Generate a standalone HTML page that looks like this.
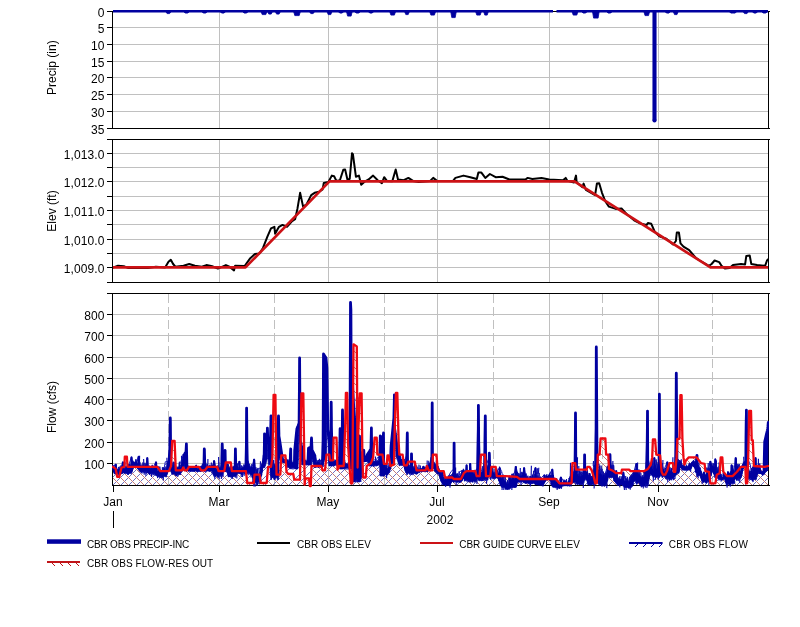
<!DOCTYPE html>
<html lang="en"><head><meta charset="utf-8"><title>CBR Reservoir Plot 2002</title>
<style>
html,body{margin:0;padding:0;background:#fff;}
body{width:800px;height:627px;overflow:hidden;}
svg{display:block;}
text{font-family:"Liberation Sans", Arial, sans-serif;fill:#000;font-kerning:none;}
.ax{font-size:12px;letter-spacing:0.1px;}
.lg{font-size:10px;}
.g{stroke:#c0c0c0;stroke-width:1;shape-rendering:crispEdges;fill:none;}
.k{stroke:#000;stroke-width:1;shape-rendering:crispEdges;fill:none;}
</style></head><body>
<svg width="800" height="627" viewBox="0 0 800 627">
<defs>
<pattern id="hb" width="8" height="8" patternUnits="userSpaceOnUse" patternTransform="translate(6,0)"><path d="M-1,9 L9,-1 M-1,1 L1,-1 M7,9 L9,7" stroke="#7070c0" stroke-width="1" fill="none" shape-rendering="crispEdges"/></pattern>
<pattern id="hr" width="8" height="8" patternUnits="userSpaceOnUse" patternTransform="translate(3,0)"><path d="M-1,-1 L9,9 M7,-1 L9,1 M-1,7 L1,9" stroke="#c47c7c" stroke-width="1" fill="none" shape-rendering="crispEdges"/></pattern>
<clipPath id="c1"><rect x="112" y="9" width="657" height="120"/></clipPath>
<clipPath id="c2"><rect x="112" y="139" width="657" height="144"/></clipPath>
<clipPath id="c3"><rect x="112" y="293" width="657" height="197"/></clipPath>
<clipPath id="c3f"><rect x="113" y="294" width="655" height="191"/></clipPath>
</defs>
<rect width="800" height="627" fill="#fff"/>
<g id="precip">
<line class="g" x1="219.5" y1="12" x2="219.5" y2="128"/>
<line class="g" x1="328.5" y1="12" x2="328.5" y2="128"/>
<line class="g" x1="437.5" y1="12" x2="437.5" y2="128"/>
<line class="g" x1="549.5" y1="12" x2="549.5" y2="128"/>
<line class="g" x1="658.5" y1="12" x2="658.5" y2="128"/>
<line class="g" x1="113" y1="27.5" x2="768" y2="27.5"/>
<line class="g" x1="113" y1="44.5" x2="768" y2="44.5"/>
<line class="g" x1="113" y1="61.5" x2="768" y2="61.5"/>
<line class="g" x1="113" y1="77.5" x2="768" y2="77.5"/>
<line class="g" x1="113" y1="94.5" x2="768" y2="94.5"/>
<line class="g" x1="113" y1="111.5" x2="768" y2="111.5"/>
<path class="k" d="M107,11.5 H769.5 M107,128.5 H769.5 M112.5,11 V129 M768.5,11 V129"/>
<line class="k" x1="107" y1="11.5" x2="112" y2="11.5"/>
<text class="ax" x="104.6" y="17" text-anchor="end">0</text>
<line class="k" x1="107" y1="27.5" x2="112" y2="27.5"/>
<text class="ax" x="104.6" y="33" text-anchor="end">5</text>
<line class="k" x1="107" y1="44.5" x2="112" y2="44.5"/>
<text class="ax" x="104.6" y="50" text-anchor="end">10</text>
<line class="k" x1="107" y1="61.5" x2="112" y2="61.5"/>
<text class="ax" x="104.6" y="67" text-anchor="end">15</text>
<line class="k" x1="107" y1="77.5" x2="112" y2="77.5"/>
<text class="ax" x="104.6" y="83" text-anchor="end">20</text>
<line class="k" x1="107" y1="94.5" x2="112" y2="94.5"/>
<text class="ax" x="104.6" y="100" text-anchor="end">25</text>
<line class="k" x1="107" y1="111.5" x2="112" y2="111.5"/>
<text class="ax" x="104.6" y="117" text-anchor="end">30</text>
<line class="k" x1="107" y1="128.5" x2="112" y2="128.5"/>
<text class="ax" x="104.6" y="134" text-anchor="end">35</text>
<text class="ax" style="letter-spacing:0" transform="translate(56.2,67.7) rotate(-90)" text-anchor="middle">Precip (in)</text>
<g clip-path="url(#c1)">
<path d="M113,11.35 H553 M556.5,11.35 H768" stroke="#0000a0" stroke-width="2.5" fill="none"/>
<path d="M166.1,12 L167.1,13.6 L169.6,13.6 L170.6,12 Z" fill="#0000a0" stroke="#0000a0" stroke-width="0.8" stroke-linejoin="round"/>
<path d="M184.2,12 L185.2,13.1 L187.8,13.1 L188.8,12 Z" fill="#0000a0" stroke="#0000a0" stroke-width="0.8" stroke-linejoin="round"/>
<path d="M202.3,12 L203.3,13.1 L205.8,13.1 L206.8,12 Z" fill="#0000a0" stroke="#0000a0" stroke-width="0.8" stroke-linejoin="round"/>
<path d="M220.6,12 L221.6,13.1 L224.1,13.1 L225.1,12 Z" fill="#0000a0" stroke="#0000a0" stroke-width="0.8" stroke-linejoin="round"/>
<path d="M243.1,12 L244.1,13.1 L246.6,13.1 L247.6,12 Z" fill="#0000a0" stroke="#0000a0" stroke-width="0.8" stroke-linejoin="round"/>
<path d="M261.2,12 L262.2,14.6 L265.8,14.6 L266.8,12 Z" fill="#0000a0" stroke="#0000a0" stroke-width="0.8" stroke-linejoin="round"/>
<path d="M267.8,12 L268.8,14.1 L271.2,14.1 L272.2,12 Z" fill="#0000a0" stroke="#0000a0" stroke-width="0.8" stroke-linejoin="round"/>
<path d="M275.6,12 L276.6,14.1 L279.1,14.1 L280.1,12 Z" fill="#0000a0" stroke="#0000a0" stroke-width="0.8" stroke-linejoin="round"/>
<path d="M293.8,12 L294.8,15.6 L299.2,15.6 L300.2,12 Z" fill="#0000a0" stroke="#0000a0" stroke-width="0.8" stroke-linejoin="round"/>
<path d="M309.8,12 L310.8,13.6 L313.2,13.6 L314.2,12 Z" fill="#0000a0" stroke="#0000a0" stroke-width="0.8" stroke-linejoin="round"/>
<path d="M327.2,12 L328.2,14.6 L330.8,14.6 L331.8,12 Z" fill="#0000a0" stroke="#0000a0" stroke-width="0.8" stroke-linejoin="round"/>
<path d="M338.8,12 L339.8,13.1 L342.2,13.1 L343.2,12 Z" fill="#0000a0" stroke="#0000a0" stroke-width="0.8" stroke-linejoin="round"/>
<path d="M346.6,12 L347.6,16.1 L351.1,16.1 L352.1,12 Z" fill="#0000a0" stroke="#0000a0" stroke-width="0.8" stroke-linejoin="round"/>
<path d="M355.2,12 L356.2,13.1 L358.8,13.1 L359.8,12 Z" fill="#0000a0" stroke="#0000a0" stroke-width="0.8" stroke-linejoin="round"/>
<path d="M368.8,12 L369.8,13.1 L372.2,13.1 L373.2,12 Z" fill="#0000a0" stroke="#0000a0" stroke-width="0.8" stroke-linejoin="round"/>
<path d="M389.9,12 L390.9,15.1 L394.4,15.1 L395.4,12 Z" fill="#0000a0" stroke="#0000a0" stroke-width="0.8" stroke-linejoin="round"/>
<path d="M404.8,12 L405.8,14.6 L408.2,14.6 L409.2,12 Z" fill="#0000a0" stroke="#0000a0" stroke-width="0.8" stroke-linejoin="round"/>
<path d="M429.9,12 L430.9,15.1 L434.4,15.1 L435.4,12 Z" fill="#0000a0" stroke="#0000a0" stroke-width="0.8" stroke-linejoin="round"/>
<path d="M450.8,12 L451.8,17.6 L455.2,17.6 L456.2,12 Z" fill="#0000a0" stroke="#0000a0" stroke-width="0.8" stroke-linejoin="round"/>
<path d="M475.8,12 L476.8,15.1 L480.2,15.1 L481.2,12 Z" fill="#0000a0" stroke="#0000a0" stroke-width="0.8" stroke-linejoin="round"/>
<path d="M483.8,12 L484.8,15.1 L487.2,15.1 L488.2,12 Z" fill="#0000a0" stroke="#0000a0" stroke-width="0.8" stroke-linejoin="round"/>
<path d="M572.2,12 L573.2,15.1 L576.8,15.1 L577.8,12 Z" fill="#0000a0" stroke="#0000a0" stroke-width="0.8" stroke-linejoin="round"/>
<path d="M582.1,12 L583.1,13.1 L585.6,13.1 L586.6,12 Z" fill="#0000a0" stroke="#0000a0" stroke-width="0.8" stroke-linejoin="round"/>
<path d="M592.6,12 L593.6,18.1 L598.1,18.1 L599.1,12 Z" fill="#0000a0" stroke="#0000a0" stroke-width="0.8" stroke-linejoin="round"/>
<path d="M607.1,12 L608.1,13.1 L610.6,13.1 L611.6,12 Z" fill="#0000a0" stroke="#0000a0" stroke-width="0.8" stroke-linejoin="round"/>
<path d="M644.0,12 L645.0,15.6 L648.5,15.6 L649.5,12 Z" fill="#0000a0" stroke="#0000a0" stroke-width="0.8" stroke-linejoin="round"/>
<path d="M665.5,12 L666.5,13.1 L669.0,13.1 L670.0,12 Z" fill="#0000a0" stroke="#0000a0" stroke-width="0.8" stroke-linejoin="round"/>
<path d="M673.5,12 L674.5,14.6 L677.0,14.6 L678.0,12 Z" fill="#0000a0" stroke="#0000a0" stroke-width="0.8" stroke-linejoin="round"/>
<path d="M729.8,12 L730.8,13.1 L735.2,13.1 L736.2,12 Z" fill="#0000a0" stroke="#0000a0" stroke-width="0.8" stroke-linejoin="round"/>
<path d="M743.5,12 L744.5,13.6 L747.0,13.6 L748.0,12 Z" fill="#0000a0" stroke="#0000a0" stroke-width="0.8" stroke-linejoin="round"/>
<path d="M752.8,12 L753.8,13.1 L756.2,13.1 L757.2,12 Z" fill="#0000a0" stroke="#0000a0" stroke-width="0.8" stroke-linejoin="round"/>
<path d="M762.2,12 L763.2,13.1 L765.8,13.1 L766.8,12 Z" fill="#0000a0" stroke="#0000a0" stroke-width="0.8" stroke-linejoin="round"/>
<path d="M654.5,10 V120.5" stroke="#0000a0" stroke-width="4.1" fill="none"/>
<circle cx="654.5" cy="120.5" r="2.05" fill="#0000a0"/>
</g>
</g>
<g id="elev">
<line class="g" x1="219.5" y1="140" x2="219.5" y2="282"/>
<line class="g" x1="328.5" y1="140" x2="328.5" y2="282"/>
<line class="g" x1="437.5" y1="140" x2="437.5" y2="282"/>
<line class="g" x1="549.5" y1="140" x2="549.5" y2="282"/>
<line class="g" x1="658.5" y1="140" x2="658.5" y2="282"/>
<line class="g" x1="113" y1="153.5" x2="768" y2="153.5"/>
<line class="g" x1="113" y1="181.5" x2="768" y2="181.5"/>
<line class="g" x1="113" y1="210.5" x2="768" y2="210.5"/>
<line class="g" x1="113" y1="239.5" x2="768" y2="239.5"/>
<line class="g" x1="113" y1="267.5" x2="768" y2="267.5"/>
<line class="g" x1="113" y1="167.5" x2="768" y2="167.5"/>
<line class="g" x1="113" y1="196.5" x2="768" y2="196.5"/>
<line class="g" x1="113" y1="224.5" x2="768" y2="224.5"/>
<line class="g" x1="113" y1="253.5" x2="768" y2="253.5"/>
<path class="k" d="M107,139.5 H769.5 M107,282.5 H769.5 M112.5,139 V283 M768.5,139 V283"/>
<line class="k" x1="107" y1="153.5" x2="112" y2="153.5"/>
<text class="ax" x="104.6" y="159" text-anchor="end">1,013.0</text>
<line class="k" x1="107" y1="181.5" x2="112" y2="181.5"/>
<text class="ax" x="104.6" y="187" text-anchor="end">1,012.0</text>
<line class="k" x1="107" y1="210.5" x2="112" y2="210.5"/>
<text class="ax" x="104.6" y="216" text-anchor="end">1,011.0</text>
<line class="k" x1="107" y1="239.5" x2="112" y2="239.5"/>
<text class="ax" x="104.6" y="245" text-anchor="end">1,010.0</text>
<line class="k" x1="107" y1="267.5" x2="112" y2="267.5"/>
<text class="ax" x="104.6" y="273" text-anchor="end">1,009.0</text>
<line class="k" x1="107" y1="167.5" x2="112" y2="167.5"/>
<line class="k" x1="107" y1="196.5" x2="112" y2="196.5"/>
<line class="k" x1="107" y1="224.5" x2="112" y2="224.5"/>
<line class="k" x1="107" y1="253.5" x2="112" y2="253.5"/>
<text class="ax" style="letter-spacing:0" transform="translate(56.2,211.0) rotate(-90)" text-anchor="middle">Elev (ft)</text>
<g clip-path="url(#c2)">
<polyline points="113.4,267.4 118.0,265.8 123.8,266.3 128.4,268.1 147.9,268.1 155.9,266.7 165.1,267.4 168.5,261.7 170.8,259.8 173.1,264.0 175.4,266.7 183.5,265.8 189.2,264.0 194.9,265.8 201.8,266.7 206.4,265.1 212.2,266.3 217.9,268.6 225.9,265.1 229.4,266.7 234.0,270.4 235.1,265.8 244.6,266.0 250.3,258.2 254.9,254.1 259.5,253.6 263.0,247.9 267.5,236.4 271.0,228.4 274.4,226.8 275.1,233.7 279.0,226.8 282.5,224.9 287.0,226.8 291.7,221.5 295.1,219.2 297.4,208.9 300.1,192.8 303.1,206.6 306.6,204.3 311.2,195.1 314.6,192.8 319.2,191.7 322.6,189.4 323.8,182.9 328.4,182.0 331.8,175.6 334.1,176.3 336.4,180.9 339.9,180.2 343.3,169.8 345.1,169.4 347.4,179.5 349.7,179.0 352.0,153.3 352.9,154.2 355.9,176.7 358.9,175.6 361.2,184.8 365.1,181.3 368.6,179.5 373.1,175.6 377.7,180.2 381.9,183.2 384.2,177.2 386.9,180.9 392.3,181.3 395.7,169.4 398.0,179.5 403.8,180.2 408.4,177.9 413.0,180.9 418.7,182.0 430.2,180.9 433.2,177.9 437.0,180.9 453.1,180.9 455.4,177.9 463.5,175.6 470.3,177.2 476.8,179.0 478.4,172.6 481.4,172.6 485.3,177.9 489.9,174.0 495.6,177.2 502.5,176.7 509.4,179.5 525.4,179.5 527.7,177.9 532.3,179.0 541.5,177.9 549.2,179.5 563.0,180.2 565.7,177.9 567.5,180.9 574.0,182.5 576.0,175.6 576.7,182.5 582.5,187.1 583.6,183.6 585.9,190.0 595.1,195.1 596.9,183.6 599.2,183.2 602.0,192.8 605.4,201.5 608.9,206.6 615.8,208.9 621.5,208.4 627.2,214.6 634.1,220.3 641.0,223.8 646.7,224.9 647.9,223.1 651.3,223.8 654.8,231.8 659.4,236.4 666.3,238.7 673.1,244.5 675.9,241.0 676.8,232.5 678.9,232.5 680.5,243.3 683.5,246.7 689.2,250.2 696.1,258.2 699.7,260.5 708.9,265.8 711.6,264.0 714.6,260.5 719.2,262.1 721.5,265.8 724.9,268.6 729.5,268.1 733.0,265.1 741.0,264.0 745.1,264.4 746.3,255.9 749.7,255.5 751.3,264.0 757.1,265.1 765.1,265.8 767.0,260.5 768.0,259.4" fill="none" stroke="#000" stroke-width="2" stroke-linejoin="round" stroke-linecap="round"/>
<polyline points="113.0,267.4 245.5,267.4 329.5,181.4 574.4,181.4 710.5,267.4 768.0,267.4" fill="none" stroke="#cc1216" stroke-width="2.7" stroke-linejoin="round"/>
</g>
</g>
<g id="flow">
<line class="g" x1="219.5" y1="294" x2="219.5" y2="485"/>
<line class="g" x1="328.5" y1="294" x2="328.5" y2="485"/>
<line class="g" x1="437.5" y1="294" x2="437.5" y2="485"/>
<line class="g" x1="549.5" y1="294" x2="549.5" y2="485"/>
<line class="g" x1="658.5" y1="294" x2="658.5" y2="485"/>
<line class="g" stroke-dasharray="9 4" x1="168.5" y1="294" x2="168.5" y2="485"/>
<line class="g" stroke-dasharray="9 4" x1="274.5" y1="294" x2="274.5" y2="485"/>
<line class="g" stroke-dasharray="9 4" x1="384.5" y1="294" x2="384.5" y2="485"/>
<line class="g" stroke-dasharray="9 4" x1="493.5" y1="294" x2="493.5" y2="485"/>
<line class="g" stroke-dasharray="9 4" x1="602.5" y1="294" x2="602.5" y2="485"/>
<line class="g" stroke-dasharray="9 4" x1="712.5" y1="294" x2="712.5" y2="485"/>
<line class="g" x1="113" y1="463.5" x2="768" y2="463.5"/>
<line class="g" x1="113" y1="442.5" x2="768" y2="442.5"/>
<line class="g" x1="113" y1="420.5" x2="768" y2="420.5"/>
<line class="g" x1="113" y1="399.5" x2="768" y2="399.5"/>
<line class="g" x1="113" y1="378.5" x2="768" y2="378.5"/>
<line class="g" x1="113" y1="357.5" x2="768" y2="357.5"/>
<line class="g" x1="113" y1="335.5" x2="768" y2="335.5"/>
<line class="g" x1="113" y1="314.5" x2="768" y2="314.5"/>
<path class="k" d="M107,293.5 H769.5 M112,485.5 H769.5 M112.5,293 V486 M768.5,293 V486"/>
<line class="k" x1="107" y1="463.5" x2="112" y2="463.5"/>
<text class="ax" x="104.6" y="469" text-anchor="end">100</text>
<line class="k" x1="107" y1="442.5" x2="112" y2="442.5"/>
<text class="ax" x="104.6" y="448" text-anchor="end">200</text>
<line class="k" x1="107" y1="420.5" x2="112" y2="420.5"/>
<text class="ax" x="104.6" y="426" text-anchor="end">300</text>
<line class="k" x1="107" y1="399.5" x2="112" y2="399.5"/>
<text class="ax" x="104.6" y="405" text-anchor="end">400</text>
<line class="k" x1="107" y1="378.5" x2="112" y2="378.5"/>
<text class="ax" x="104.6" y="384" text-anchor="end">500</text>
<line class="k" x1="107" y1="357.5" x2="112" y2="357.5"/>
<text class="ax" x="104.6" y="363" text-anchor="end">600</text>
<line class="k" x1="107" y1="335.5" x2="112" y2="335.5"/>
<text class="ax" x="104.6" y="341" text-anchor="end">700</text>
<line class="k" x1="107" y1="314.5" x2="112" y2="314.5"/>
<text class="ax" x="104.6" y="320" text-anchor="end">800</text>
<text class="ax" style="letter-spacing:0" transform="translate(56.2,407.0) rotate(-90)" text-anchor="middle">Flow (cfs)</text>
<g clip-path="url(#c3f)">
<polygon points="112.9,467.5 115.7,463.9 118.6,474.7 120.8,468.9 122.9,461.7 125.8,470.4 127.9,474.7 129.4,463.2 131.5,456.7 133.7,467.5 135.8,463.2 138.7,456.0 140.9,468.9 144.5,473.2 147.3,457.4 149.5,474.7 153.1,467.5 156.0,461.7 158.8,476.1 162.4,478.3 165.3,461.7 169.0,461.7 169.8,448.8 170.3,417.9 170.6,450.3 171.4,467.5 173.2,467.5 176.1,476.1 178.9,467.5 181.8,458.9 186.0,451.7 186.4,443.8 186.9,463.2 190.4,471.8 193.3,467.5 196.2,465.3 200.5,471.8 203.9,463.2 204.3,448.8 204.8,460.3 209.1,471.8 212.0,467.5 214.1,460.3 216.3,468.9 217.9,477.5 221.6,464.6 222.2,443.8 222.7,456.3 223.0,457.4 224.4,457.4 225.1,450.3 225.4,471.8 229.4,467.5 232.2,477.5 235.1,461.7 235.4,448.8 235.9,466.0 236.2,467.5 237.3,467.5 239.4,461.0 241.6,474.7 244.4,467.5 245.6,467.5 246.4,443.1 246.6,407.9 246.9,443.1 247.7,467.5 248.7,467.5 250.9,474.7 252.6,464.6 254.1,458.9 255.9,471.8 256.9,484.7 258.1,468.9 261.0,467.5 264.2,454.6 264.5,433.7 265.0,442.3 266.8,443.1 267.4,428.0 267.8,440.2 270.5,438.3 271.0,415.8 271.4,443.1 272.2,464.6 273.9,464.6 274.6,479.7 275.3,457.4 277.2,457.4 278.0,428.7 278.5,415.8 278.9,435.9 281.8,454.6 283.9,460.3 286.8,463.2 290.2,457.4 290.7,448.8 291.2,467.3 291.5,468.9 292.5,468.9 293.9,468.9 294.7,450.3 296.8,428.7 299.1,423.1 299.6,357.9 300.1,440.0 303.5,455.0 306.0,465.0 307.7,465.0 308.5,448.0 311.0,447.2 311.5,438.0 312.0,450.0 315.5,457.0 318.5,468.0 320.5,460.0 322.3,460.0 323.1,440.0 323.5,354.0 326.0,358.0 326.9,368.4 327.8,430.0 330.7,454.6 330.9,430.0 331.2,402.2 331.4,425.0 331.8,443.0 332.6,466.0 334.4,466.0 337.2,457.4 339.3,457.4 339.6,455.1 340.1,428.7 340.6,444.6 342.0,446.0 342.5,410.0 342.8,443.0 343.6,469.0 345.8,469.0 349.1,469.0 349.9,443.0 350.2,380.0 350.5,302.4 350.9,311.0 351.1,360.0 355.5,440.0 356.3,481.9 357.1,481.9 357.2,398.0 357.5,440.0 359.5,436.0 360.0,457.4 363.8,450.3 364.1,461.7 367.4,454.6 370.9,448.8 371.4,428.0 371.6,443.0 372.4,466.0 374.6,466.0 377.4,457.4 379.5,457.4 379.8,455.7 380.3,435.9 383.1,440.2 383.5,433.0 383.7,460.0 383.9,476.1 386.1,468.9 388.9,463.2 390.3,463.2 391.1,446.0 393.9,417.2 394.4,394.8 394.6,428.7 397.5,450.3 400.4,457.4 403.3,466.0 406.8,454.6 407.3,433.0 407.6,457.4 409.7,474.7 410.7,474.7 411.0,473.0 411.5,453.8 412.0,473.0 412.3,474.7 413.3,474.7 416.2,466.0 420.5,471.8 423.4,466.0 425.0,470.0 427.2,471.8 429.3,466.1 431.8,457.4 432.2,402.9 432.5,457.4 435.1,468.9 437.9,466.1 439.4,473.2 442.2,471.8 445.1,480.4 446.5,484.7 448.7,476.1 450.8,471.8 453.9,468.9 454.1,443.1 454.4,471.8 457.3,481.8 459.5,471.8 462.3,470.4 465.2,474.7 466.6,464.6 468.1,480.4 470.2,463.2 472.4,481.8 474.5,471.8 476.7,468.9 477.5,468.9 478.3,428.7 478.4,405.0 478.7,443.1 479.5,471.8 480.7,471.8 482.4,480.4 484.2,480.4 485.0,443.1 485.3,415.8 485.7,457.4 489.0,464.6 489.3,453.1 489.7,471.8 493.9,477.5 496.8,471.8 499.7,467.5 501.8,471.8 503.3,481.8 505.4,487.6 507.6,481.8 509.7,476.1 512.6,486.2 514.0,474.7 515.8,466.1 517.6,473.2 519.8,480.4 522.6,474.7 524.1,467.5 526.2,477.5 528.4,481.8 530.5,476.1 532.7,481.8 532.9,474.7 535.5,467.5 537.2,477.5 539.3,483.3 541.5,477.5 544.4,474.7 547.2,477.5 550.1,473.2 552.3,468.9 553.7,477.5 556.6,486.2 558.7,481.8 560.9,476.8 563.7,481.8 565.9,484.7 568.8,484.7 571.6,481.8 573.1,471.8 574.5,471.8 575.3,443.1 575.5,412.9 575.7,443.1 575.9,461.7 578.1,474.7 579.5,484.7 581.7,476.1 584.2,467.5 584.6,454.6 584.9,471.8 587.4,477.5 589.6,473.2 591.7,484.7 593.9,471.8 595.3,471.8 596.1,428.7 596.3,347.0 596.9,443.1 597.7,464.6 599.6,464.6 601.1,477.5 602.5,486.2 604.7,474.7 606.8,468.9 609.7,463.2 610.0,454.6 610.3,471.8 613.3,477.5 616.2,470.4 618.3,480.4 621.2,484.7 623.3,471.8 625.5,480.4 628.4,487.6 630.5,480.4 633.4,474.7 635.0,467.5 636.4,463.2 637.9,477.5 640.0,483.3 642.2,477.5 644.3,486.2 645.8,468.9 646.4,468.9 647.2,443.1 647.5,410.8 647.8,457.4 650.8,468.9 652.9,474.7 654.4,457.4 656.5,477.5 659.0,457.4 659.4,394.2 659.8,457.4 662.3,477.5 664.4,468.9 667.3,461.7 669.5,480.4 672.3,474.7 675.0,474.7 675.8,443.1 676.0,430.2 676.3,373.2 676.7,428.7 676.9,457.4 681.0,464.6 683.8,467.5 686.7,470.4 689.6,463.2 692.4,466.1 695.3,460.3 697.0,455.3 697.5,467.8 698.9,468.9 701.1,477.5 703.9,471.8 706.1,483.3 708.2,468.9 710.4,461.0 711.8,471.8 714.0,467.5 715.4,458.9 716.8,471.8 719.0,480.4 721.2,474.7 724.0,473.2 726.9,477.5 728.1,471.8 730.2,486.2 731.6,464.6 733.8,471.8 735.7,457.4 736.7,480.4 738.8,468.9 741.7,466.1 745.8,461.7 746.0,437.3 746.3,421.5 746.4,410.1 746.7,443.1 747.0,457.4 750.3,464.6 752.5,481.1 754.6,464.6 755.6,457.4 756.8,471.8 758.9,474.0 761.8,471.8 764.0,470.4 764.7,441.6 767.7,428.7 768.3,422.3 768.3,485 112.9,485" fill="url(#hb)" stroke="none"/>
<polygon points="112.9,466.8 115.7,468.9 117.2,476.8 119.3,476.8 121.5,467.5 124.4,466.8 124.8,456.7 126.9,456.7 127.5,466.8 157.4,466.8 160.3,471.1 168.9,471.1 171.0,466.1 172.2,440.9 174.6,440.9 175.8,470.4 181.8,470.4 183.2,467.5 184.7,470.4 186.8,470.4 189.0,466.8 199.0,466.8 201.2,470.4 204.8,470.4 207.6,466.8 217.2,466.8 218.6,471.1 224.3,471.1 225.8,462.5 230.8,462.5 231.9,471.1 245.9,471.1 247.3,483.0 253.8,483.0 254.5,474.7 259.5,474.7 260.7,483.0 266.7,483.0 268.1,466.8 271.0,466.8 272.4,457.4 273.6,394.8 275.4,394.8 276.5,474.7 280.3,474.7 281.3,455.3 285.4,455.3 286.5,471.8 288.2,474.0 293.3,474.0 294.3,479.7 300.0,479.7 301.4,393.3 303.3,393.3 304.7,484.7 305.2,478.3 309.1,478.3 309.8,486.0 310.8,486.0 311.5,466.0 321.3,466.0 322.7,470.4 325.0,470.4 326.5,454.6 329.3,454.6 330.0,460.3 332.9,460.3 333.6,437.6 336.5,437.6 337.5,469.6 339.4,466.0 343.7,466.0 345.1,428.7 345.9,392.9 347.2,392.9 348.0,443.0 349.4,466.0 350.9,483.3 352.3,483.3 353.5,344.3 356.8,346.4 357.6,467.5 358.1,437.3 359.8,393.3 361.6,393.3 362.4,457.4 363.1,477.5 365.7,477.5 366.7,466.0 371.0,463.2 373.1,457.4 374.6,437.6 376.7,437.6 377.4,454.6 382.5,454.6 383.9,463.9 386.8,463.9 387.5,455.3 388.6,455.3 390.4,466.0 394.0,464.6 394.7,428.7 395.9,392.9 397.3,392.9 398.7,443.1 399.3,454.6 402.6,454.6 404.0,465.3 406.9,465.3 408.3,461.7 414.8,461.7 416.5,470.4 425.5,470.4 427.0,466.0 428.6,470.4 432.2,470.4 432.9,454.6 436.5,454.6 437.6,468.9 439.4,471.1 443.7,471.1 445.1,477.5 452.3,477.5 453.7,479.0 460.9,479.0 463.8,473.2 466.6,471.1 475.3,471.1 476.7,476.1 479.6,476.1 481.0,454.6 485.0,454.6 486.0,476.1 490.3,476.1 491.3,466.8 495.7,466.8 496.8,476.1 505.4,476.1 516.9,476.8 519.8,479.0 555.8,479.0 559.4,483.3 571.6,483.3 572.4,463.2 575.2,463.2 576.0,469.6 586.7,469.6 587.4,466.8 589.6,466.8 591.7,470.4 593.9,477.5 595.3,483.3 596.8,483.3 597.8,454.6 599.6,454.6 600.6,438.5 605.4,438.5 606.1,454.6 608.3,454.6 609.0,468.9 613.3,471.1 616.2,473.2 621.2,473.2 621.9,469.6 629.1,469.6 630.5,471.1 644.3,471.1 647.9,468.9 650.8,464.6 652.2,457.4 652.9,439.5 655.1,439.5 656.3,454.6 660.1,455.3 661.6,471.8 663.0,474.7 665.2,474.7 667.3,470.4 669.5,463.2 673.1,463.2 673.8,471.8 675.2,471.8 676.6,457.4 677.4,438.8 679.5,438.8 680.4,395.2 681.6,395.2 682.4,438.8 683.5,457.4 684.5,464.6 686.0,460.3 688.8,457.4 696.7,457.4 701.1,463.2 704.6,463.9 705.4,471.1 709.0,471.8 710.4,483.3 715.4,483.3 716.8,474.7 719.7,473.2 720.7,457.4 722.3,457.4 723.3,471.8 726.9,476.1 732.6,476.1 737.0,471.8 741.0,466.8 745.3,466.8 746.0,483.3 747.2,483.3 748.2,457.4 749.2,410.8 751.0,410.8 751.7,440.2 752.8,440.2 753.9,466.0 764.7,466.8 768.0,466.0 768.0,485 112.9,485" fill="url(#hr)" stroke="none"/>
</g>
<g clip-path="url(#c3)">
<polyline points="112.9,467.5 115.7,463.9 118.6,474.7 120.8,468.9 122.9,461.7 125.8,470.4 127.9,474.7 129.4,463.2 131.5,456.7 133.7,467.5 135.8,463.2 138.7,456.0 140.9,468.9 144.5,473.2 147.3,457.4 149.5,474.7 153.1,467.5 156.0,461.7 158.8,476.1 162.4,478.3 165.3,461.7 169.0,461.7 169.8,448.8 170.3,417.9 170.6,450.3 171.4,467.5 173.2,467.5 176.1,476.1 178.9,467.5 181.8,458.9 186.0,451.7 186.4,443.8 186.9,463.2 190.4,471.8 193.3,467.5 196.2,465.3 200.5,471.8 203.9,463.2 204.3,448.8 204.8,460.3 209.1,471.8 212.0,467.5 214.1,460.3 216.3,468.9 217.9,477.5 221.6,464.6 222.2,443.8 222.7,456.3 223.0,457.4 224.4,457.4 225.1,450.3 225.4,471.8 229.4,467.5 232.2,477.5 235.1,461.7 235.4,448.8 235.9,466.0 236.2,467.5 237.3,467.5 239.4,461.0 241.6,474.7 244.4,467.5 245.6,467.5 246.4,443.1 246.6,407.9 246.9,443.1 247.7,467.5 248.7,467.5 250.9,474.7 252.6,464.6 254.1,458.9 255.9,471.8 256.9,484.7 258.1,468.9 261.0,467.5 264.2,454.6 264.5,433.7 265.0,442.3 266.8,443.1 267.4,428.0 267.8,440.2 270.5,438.3 271.0,415.8 271.4,443.1 272.2,464.6 273.9,464.6 274.6,479.7 275.3,457.4 277.2,457.4 278.0,428.7 278.5,415.8 278.9,435.9 281.8,454.6 283.9,460.3 286.8,463.2 290.2,457.4 290.7,448.8 291.2,467.3 291.5,468.9 292.5,468.9 293.9,468.9 294.7,450.3 296.8,428.7 299.1,423.1 299.6,357.9 300.1,440.0 303.5,455.0 306.0,465.0 307.7,465.0 308.5,448.0 311.0,447.2 311.5,438.0 312.0,450.0 315.5,457.0 318.5,468.0 320.5,460.0 322.3,460.0 323.1,440.0 323.5,354.0 326.0,358.0 326.9,368.4 327.8,430.0 330.7,454.6 330.9,430.0 331.2,402.2 331.4,425.0 331.8,443.0 332.6,466.0 334.4,466.0 337.2,457.4 339.3,457.4 339.6,455.1 340.1,428.7 340.6,444.6 342.0,446.0 342.5,410.0 342.8,443.0 343.6,469.0 345.8,469.0 349.1,469.0 349.9,443.0 350.2,380.0 350.5,302.4 350.9,311.0 351.1,360.0 355.5,440.0 356.3,481.9 357.1,481.9 357.2,398.0 357.5,440.0 359.5,436.0 360.0,457.4 363.8,450.3 364.1,461.7 367.4,454.6 370.9,448.8 371.4,428.0 371.6,443.0 372.4,466.0 374.6,466.0 377.4,457.4 379.5,457.4 379.8,455.7 380.3,435.9 383.1,440.2 383.5,433.0 383.7,460.0 383.9,476.1 386.1,468.9 388.9,463.2 390.3,463.2 391.1,446.0 393.9,417.2 394.4,394.8 394.6,428.7 397.5,450.3 400.4,457.4 403.3,466.0 406.8,454.6 407.3,433.0 407.6,457.4 409.7,474.7 410.7,474.7 411.0,473.0 411.5,453.8 412.0,473.0 412.3,474.7 413.3,474.7 416.2,466.0 420.5,471.8 423.4,466.0 425.0,470.0 427.2,471.8 429.3,466.1 431.8,457.4 432.2,402.9 432.5,457.4 435.1,468.9 437.9,466.1 439.4,473.2 442.2,471.8 445.1,480.4 446.5,484.7 448.7,476.1 450.8,471.8 453.9,468.9 454.1,443.1 454.4,471.8 457.3,481.8 459.5,471.8 462.3,470.4 465.2,474.7 466.6,464.6 468.1,480.4 470.2,463.2 472.4,481.8 474.5,471.8 476.7,468.9 477.5,468.9 478.3,428.7 478.4,405.0 478.7,443.1 479.5,471.8 480.7,471.8 482.4,480.4 484.2,480.4 485.0,443.1 485.3,415.8 485.7,457.4 489.0,464.6 489.3,453.1 489.7,471.8 493.9,477.5 496.8,471.8 499.7,467.5 501.8,471.8 503.3,481.8 505.4,487.6 507.6,481.8 509.7,476.1 512.6,486.2 514.0,474.7 515.8,466.1 517.6,473.2 519.8,480.4 522.6,474.7 524.1,467.5 526.2,477.5 528.4,481.8 530.5,476.1 532.7,481.8 532.9,474.7 535.5,467.5 537.2,477.5 539.3,483.3 541.5,477.5 544.4,474.7 547.2,477.5 550.1,473.2 552.3,468.9 553.7,477.5 556.6,486.2 558.7,481.8 560.9,476.8 563.7,481.8 565.9,484.7 568.8,484.7 571.6,481.8 573.1,471.8 574.5,471.8 575.3,443.1 575.5,412.9 575.7,443.1 575.9,461.7 578.1,474.7 579.5,484.7 581.7,476.1 584.2,467.5 584.6,454.6 584.9,471.8 587.4,477.5 589.6,473.2 591.7,484.7 593.9,471.8 595.3,471.8 596.1,428.7 596.3,347.0 596.9,443.1 597.7,464.6 599.6,464.6 601.1,477.5 602.5,486.2 604.7,474.7 606.8,468.9 609.7,463.2 610.0,454.6 610.3,471.8 613.3,477.5 616.2,470.4 618.3,480.4 621.2,484.7 623.3,471.8 625.5,480.4 628.4,487.6 630.5,480.4 633.4,474.7 635.0,467.5 636.4,463.2 637.9,477.5 640.0,483.3 642.2,477.5 644.3,486.2 645.8,468.9 646.4,468.9 647.2,443.1 647.5,410.8 647.8,457.4 650.8,468.9 652.9,474.7 654.4,457.4 656.5,477.5 659.0,457.4 659.4,394.2 659.8,457.4 662.3,477.5 664.4,468.9 667.3,461.7 669.5,480.4 672.3,474.7 675.0,474.7 675.8,443.1 676.0,430.2 676.3,373.2 676.7,428.7 676.9,457.4 681.0,464.6 683.8,467.5 686.7,470.4 689.6,463.2 692.4,466.1 695.3,460.3 697.0,455.3 697.5,467.8 698.9,468.9 701.1,477.5 703.9,471.8 706.1,483.3 708.2,468.9 710.4,461.0 711.8,471.8 714.0,467.5 715.4,458.9 716.8,471.8 719.0,480.4 721.2,474.7 724.0,473.2 726.9,477.5 728.1,471.8 730.2,486.2 731.6,464.6 733.8,471.8 735.7,457.4 736.7,480.4 738.8,468.9 741.7,466.1 745.8,461.7 746.0,437.3 746.3,421.5 746.4,410.1 746.7,443.1 747.0,457.4 750.3,464.6 752.5,481.1 754.6,464.6 755.6,457.4 756.8,471.8 758.9,474.0 761.8,471.8 764.0,470.4 764.7,441.6 767.7,428.7 768.3,422.3" fill="none" stroke="#2020c0" stroke-width="1" stroke-linejoin="round"/>
<polygon points="112.9,465.2 113.4,467.7 113.9,467.7 114.4,469.8 114.9,471.6 115.4,469.5 115.7,469.3 115.9,467.2 116.4,468.2 116.9,469.3 117.4,470.1 117.9,470.8 118.4,468.5 118.6,467.0 118.9,467.1 119.4,470.6 119.9,466.5 120.4,467.9 120.8,470.7 120.9,465.5 121.4,468.8 121.9,470.8 122.4,466.6 122.9,468.1 122.9,469.2 123.4,465.7 123.9,468.3 124.4,469.7 124.9,469.2 125.4,468.0 125.8,466.5 125.9,468.1 126.4,466.6 126.9,466.5 127.4,464.9 127.9,468.4 128.0,467.9 128.4,464.2 128.9,466.3 129.4,463.9 129.4,465.3 129.9,464.5 130.4,467.0 130.9,464.6 131.4,465.4 131.5,467.5 131.9,465.0 132.4,466.7 132.9,460.6 133.4,463.3 133.7,461.7 133.9,461.7 134.4,462.7 134.9,461.9 135.4,461.3 135.8,459.2 135.9,459.6 136.4,462.8 136.9,462.6 137.4,464.0 137.9,466.0 138.4,464.6 138.7,460.4 138.9,462.3 139.4,464.6 139.9,462.3 140.4,468.1 140.9,468.1 141.4,467.3 141.9,464.4 142.4,467.3 142.9,462.4 143.4,464.0 143.9,465.1 144.4,467.1 144.5,465.2 144.9,462.8 145.4,464.4 145.9,464.7 146.4,464.5 146.9,463.5 147.3,465.4 147.4,465.7 147.9,468.2 148.4,468.4 148.9,466.2 149.4,465.8 149.5,468.2 149.9,469.1 150.4,467.4 150.9,468.4 151.4,469.5 151.9,465.5 152.4,470.4 152.9,466.9 153.1,468.1 153.4,469.9 153.9,469.0 154.4,465.9 154.9,470.0 155.4,466.2 155.9,468.3 155.9,471.4 156.4,468.9 156.9,470.2 157.4,471.3 157.9,472.2 158.4,471.9 158.8,466.3 158.9,469.4 159.4,469.7 159.9,466.7 160.4,471.3 160.9,471.9 161.4,472.4 161.9,473.3 162.4,467.2 162.4,468.0 162.9,471.2 163.4,467.3 163.9,468.0 164.4,470.6 164.9,467.5 165.3,472.1 165.4,472.7 165.9,466.5 166.4,470.2 166.9,468.5 167.4,468.0 167.9,461.6 168.4,460.1 168.9,463.7 169.0,463.9 169.4,455.3 169.8,448.8 169.9,443.2 170.3,418.0 170.4,424.7 170.6,450.3 170.9,466.6 171.4,465.5 171.4,462.4 171.9,461.8 172.4,464.1 172.9,468.9 173.2,462.0 173.4,461.7 173.9,464.9 174.4,462.2 174.9,463.0 175.4,469.0 175.9,470.5 176.1,471.4 176.4,469.2 176.9,466.5 177.4,466.9 177.9,468.1 178.4,470.6 178.9,470.8 178.9,464.3 179.4,461.7 179.9,469.1 180.4,469.3 180.9,464.6 181.4,466.1 181.8,465.8 181.9,464.1 182.4,464.8 182.9,459.4 183.4,460.1 183.9,455.3 184.4,454.4 184.9,453.6 185.4,452.7 185.9,451.9 186.0,451.7 186.4,444.2 186.4,443.8 186.9,461.7 186.9,464.1 187.4,464.2 187.9,466.8 188.4,468.4 188.9,466.2 189.4,466.3 189.9,466.9 190.4,467.0 190.4,466.3 190.9,469.1 191.4,469.2 191.9,467.6 192.4,468.2 192.9,467.8 193.3,468.4 193.4,467.9 193.9,468.6 194.4,469.8 194.9,467.9 195.4,468.2 195.9,468.4 196.2,468.8 196.4,467.3 196.9,469.3 197.4,469.9 197.9,468.9 198.4,467.9 198.9,469.1 199.4,468.9 199.9,468.1 200.4,466.1 200.5,469.3 200.9,468.4 201.4,465.7 201.9,466.5 202.4,463.7 202.9,468.6 203.4,467.7 203.9,466.8 203.9,467.4 204.3,448.9 204.4,449.5 204.8,464.4 204.9,466.2 205.4,463.9 205.9,468.1 206.4,465.9 206.9,465.8 207.4,464.0 207.9,467.0 208.4,467.7 208.9,466.8 209.1,465.6 209.4,468.1 209.9,464.7 210.4,467.7 210.9,466.5 211.4,465.0 211.9,466.1 211.9,466.7 212.4,464.8 212.9,468.1 213.4,467.1 213.9,472.0 214.1,471.5 214.4,465.8 214.9,470.1 215.4,467.5 215.9,470.9 216.3,469.3 216.4,468.6 216.9,472.0 217.4,465.5 217.9,469.4 218.4,468.2 218.9,462.5 219.4,469.4 219.9,467.5 220.4,470.7 220.9,467.9 221.4,465.4 221.6,471.6 221.9,455.8 222.2,443.8 222.4,448.6 222.7,464.2 222.9,464.1 223.0,467.1 223.4,463.1 223.9,466.7 224.4,465.1 224.4,462.9 224.9,452.3 225.1,450.3 225.4,467.3 225.4,463.4 225.9,461.7 226.4,462.7 226.9,467.7 227.4,463.4 227.9,469.2 228.4,464.2 228.9,474.6 229.4,472.7 229.4,470.4 229.9,474.5 230.4,471.0 230.9,471.9 231.4,469.8 231.9,466.7 232.2,466.8 232.4,467.1 232.9,467.2 233.4,466.4 233.9,466.4 234.4,472.8 234.9,466.7 235.1,469.7 235.4,449.9 235.4,448.9 235.9,471.2 235.9,472.5 236.2,469.1 236.4,465.4 236.9,470.5 237.3,464.1 237.4,466.6 237.9,468.1 238.4,470.2 238.9,469.8 239.4,468.5 239.4,467.2 239.9,469.9 240.4,470.1 240.9,470.1 241.4,469.2 241.6,465.4 241.9,465.8 242.4,467.0 242.9,467.2 243.4,468.9 243.9,464.4 244.4,467.6 244.4,465.4 244.9,468.4 245.4,464.1 245.6,465.8 245.9,463.2 246.4,444.3 246.4,443.1 246.6,408.1 246.9,442.1 246.9,443.1 247.4,462.9 247.7,468.6 247.9,463.0 248.4,468.8 248.7,462.7 248.9,467.7 249.4,463.9 249.9,465.2 250.4,469.8 250.9,466.3 250.9,467.5 251.4,468.2 251.9,464.0 252.4,471.0 252.6,471.7 252.9,467.5 253.4,472.3 253.9,469.3 254.1,474.6 254.4,466.3 254.9,472.0 255.4,475.2 255.9,474.5 255.9,467.2 256.4,475.7 256.9,468.8 256.9,475.4 257.4,471.8 257.9,467.9 258.1,475.4 258.4,476.2 258.9,474.5 259.4,476.9 259.9,468.3 260.4,468.1 260.9,467.0 260.9,468.6 261.4,467.3 261.9,463.9 262.4,463.1 262.9,462.1 263.4,460.7 263.9,455.8 264.2,454.6 264.4,443.6 264.5,433.8 264.9,439.4 265.0,442.3 265.4,442.5 265.9,442.7 266.4,442.9 266.8,443.1 266.9,441.0 267.4,429.0 267.4,428.1 267.8,440.2 267.9,440.1 268.4,439.8 268.9,439.4 269.4,439.1 269.9,438.7 270.4,438.3 270.5,438.3 270.9,421.7 271.0,415.9 271.4,443.0 271.4,443.3 271.9,472.3 272.2,471.4 272.4,468.1 272.9,466.7 273.4,466.9 273.9,473.2 274.4,464.2 274.6,472.2 274.9,471.9 275.3,465.4 275.4,466.7 275.9,468.9 276.4,471.5 276.9,473.0 277.2,473.4 277.4,452.7 277.9,434.8 278.0,428.7 278.4,418.8 278.5,415.8 278.9,433.1 278.9,435.9 279.4,438.8 279.9,442.0 280.4,445.3 280.9,448.6 281.4,451.9 281.8,454.6 281.9,454.8 282.4,458.8 282.9,459.1 283.4,459.5 283.9,461.1 283.9,460.0 284.4,459.2 284.9,459.3 285.4,460.9 285.9,460.7 286.4,458.5 286.8,459.7 286.9,459.2 287.4,460.6 287.9,462.9 288.4,460.9 288.9,462.9 289.4,465.0 289.9,464.5 290.2,460.2 290.4,454.9 290.7,448.9 290.9,463.3 291.2,461.8 291.4,461.0 291.5,461.6 291.9,460.8 292.4,464.6 292.5,463.6 292.9,462.0 293.4,463.6 293.9,462.6 293.9,462.6 294.4,461.7 294.7,450.2 294.9,448.5 295.4,443.5 295.9,438.5 296.4,433.5 296.9,428.7 296.9,428.7 297.4,427.4 297.9,426.2 298.4,424.9 298.9,423.6 299.1,423.1 299.4,387.9 299.6,357.9 299.9,404.6 300.1,440.0 300.4,441.3 300.9,443.5 301.4,445.7 301.9,447.9 302.4,450.1 302.9,452.2 303.4,454.4 303.5,455.0 303.9,461.0 304.4,460.2 304.9,460.6 305.4,459.9 305.9,461.1 306.0,461.6 306.4,460.8 306.9,462.0 307.4,459.3 307.7,461.1 307.9,462.6 308.4,450.8 308.5,448.0 308.9,447.9 309.4,447.7 309.9,447.6 310.4,447.4 310.9,447.2 311.0,447.2 311.4,440.4 311.5,438.0 311.9,446.9 312.0,450.0 312.4,450.7 312.9,451.7 313.4,452.7 313.9,453.7 314.4,454.7 314.9,455.7 315.4,464.5 315.5,462.8 315.9,464.6 316.4,464.2 316.9,461.7 317.4,460.4 317.9,462.9 318.4,461.5 318.5,459.9 318.9,464.8 319.4,464.7 319.9,463.3 320.4,463.9 320.5,464.1 320.9,465.2 321.4,463.3 321.9,463.8 322.3,462.3 322.4,462.4 322.9,446.4 323.1,440.1 323.4,383.8 323.5,354.0 323.9,354.6 324.4,355.4 324.9,356.2 325.4,357.0 325.9,357.8 326.0,358.0 326.4,362.3 326.9,368.1 326.9,368.4 327.4,400.6 327.8,430.0 327.9,430.6 328.4,434.8 328.9,439.0 329.4,443.2 329.9,447.4 330.4,451.6 330.7,454.6 330.9,438.7 330.9,430.0 331.2,402.2 331.4,417.7 331.4,425.0 331.8,443.0 331.9,445.0 332.4,461.9 332.6,462.3 332.9,460.9 333.4,462.3 333.9,461.3 334.4,460.4 334.4,461.7 334.9,460.6 335.4,460.6 335.9,459.9 336.4,462.6 336.9,460.5 337.2,463.3 337.4,461.0 337.9,460.0 338.4,462.3 338.9,461.5 339.3,461.0 339.4,458.9 339.6,455.1 339.9,440.8 340.1,428.7 340.4,437.3 340.6,444.6 340.9,444.9 341.4,445.4 341.9,445.9 342.0,445.8 342.4,419.1 342.5,410.0 342.8,443.0 342.9,445.3 343.4,464.2 343.6,466.8 343.9,464.1 344.4,463.8 344.9,463.8 345.4,463.9 345.8,465.5 345.9,463.0 346.4,464.1 346.9,464.3 347.4,465.7 347.9,462.8 348.4,462.1 348.9,464.2 349.1,463.6 349.4,463.3 349.9,443.2 349.9,442.2 350.2,380.0 350.4,342.8 350.5,302.4 350.9,309.9 350.9,310.9 351.1,358.8 351.4,364.5 351.9,373.6 352.4,382.8 352.9,391.9 353.4,401.1 353.9,410.2 354.4,419.3 354.9,428.5 355.4,437.6 355.5,440.0 355.9,468.9 356.3,471.5 356.4,465.4 356.9,471.0 357.1,471.6 357.2,398.0 357.4,424.0 357.5,440.0 357.9,439.2 358.4,438.2 358.9,437.2 359.4,436.3 359.5,436.0 359.9,451.1 360.0,464.3 360.4,474.2 360.9,455.8 361.4,454.9 361.9,453.9 362.4,453.0 362.9,452.0 363.4,451.1 363.8,450.3 363.9,452.6 364.1,458.1 364.4,460.3 364.9,459.4 365.4,458.6 365.9,459.9 366.4,458.4 366.9,455.8 367.4,454.7 367.4,454.6 367.9,453.8 368.4,453.0 368.9,452.2 369.4,451.4 369.9,450.5 370.4,449.7 370.9,448.9 370.9,448.8 371.4,429.3 371.4,428.0 371.6,443.0 371.9,449.3 372.4,463.1 372.4,463.0 372.9,462.3 373.4,461.6 373.9,462.7 374.4,460.9 374.6,461.1 374.9,461.3 375.4,460.4 375.9,462.2 376.4,461.3 376.9,463.3 377.4,462.9 377.4,460.7 377.9,460.7 378.4,462.8 378.9,461.5 379.4,459.1 379.5,460.0 379.8,455.7 379.9,452.9 380.3,435.9 380.4,436.0 380.9,436.8 381.4,437.6 381.9,438.4 382.4,439.1 382.9,439.9 383.1,440.2 383.4,435.1 383.5,433.0 383.7,468.1 383.9,470.3 383.9,467.2 384.4,465.5 384.9,467.2 385.4,464.8 385.9,466.6 386.1,469.0 386.4,464.8 386.9,471.6 387.4,468.3 387.9,467.6 388.4,470.0 388.9,465.5 388.9,465.7 389.4,468.4 389.9,464.7 390.3,465.7 390.4,463.8 390.9,450.9 391.1,446.0 391.4,443.2 391.9,438.2 392.4,433.1 392.9,428.0 393.4,422.9 393.9,417.8 393.9,417.3 394.4,396.2 394.4,394.8 394.6,428.7 394.9,430.4 395.4,434.2 395.9,437.9 396.4,441.7 396.9,445.5 397.4,449.3 397.5,450.3 397.9,451.2 398.4,452.4 398.9,453.7 399.4,454.9 399.9,460.0 400.4,459.6 400.4,462.2 400.9,461.7 401.4,459.1 401.9,461.4 402.4,459.0 402.9,460.5 403.3,461.4 403.4,461.7 403.9,459.5 404.4,459.0 404.9,462.5 405.4,466.3 405.9,467.9 406.4,464.2 406.8,454.6 406.9,452.6 407.3,433.0 407.4,439.8 407.6,468.5 407.9,463.9 408.4,463.0 408.9,463.7 409.4,467.3 409.7,468.6 409.9,465.1 410.4,467.0 410.7,463.2 410.9,466.1 411.0,465.5 411.4,465.5 411.5,453.8 411.9,467.6 412.0,468.0 412.3,467.7 412.4,468.5 412.9,466.5 413.3,469.3 413.4,467.3 413.9,469.5 414.4,466.1 414.9,468.2 415.4,464.6 415.9,468.7 416.2,472.0 416.4,469.8 416.9,468.6 417.4,470.7 417.9,470.9 418.4,469.6 418.9,470.2 419.4,470.0 419.9,468.8 420.4,468.2 420.5,467.8 420.9,468.3 421.4,469.2 421.9,470.0 422.4,467.6 422.9,469.7 423.4,469.6 423.4,469.4 423.9,467.9 424.4,467.7 424.9,469.5 425.0,469.3 425.4,468.5 425.9,467.4 426.4,465.1 426.9,468.7 427.1,467.9 427.4,468.1 427.9,466.7 428.4,464.4 428.9,466.8 429.3,462.7 429.4,465.7 429.9,462.9 430.4,463.9 430.9,467.0 431.4,463.9 431.8,465.9 431.9,450.0 432.2,402.9 432.4,439.0 432.5,460.6 432.9,463.6 433.4,464.9 433.9,461.8 434.4,463.1 434.9,467.0 435.1,463.5 435.4,468.5 435.9,467.7 436.4,465.3 436.9,467.1 437.4,465.5 437.9,469.3 437.9,471.3 438.4,469.2 438.9,468.8 439.4,468.7 439.4,469.8 439.9,470.7 440.4,474.8 440.9,473.4 441.4,474.7 441.9,473.6 442.2,474.8 442.4,477.4 442.9,480.2 443.4,476.9 443.9,478.6 444.4,479.9 444.9,482.0 445.1,477.5 445.4,478.3 445.9,479.5 446.4,477.0 446.5,480.2 446.9,482.1 447.4,477.2 447.9,478.4 448.4,475.6 448.7,478.4 448.9,481.5 449.4,478.1 449.9,474.9 450.4,475.7 450.9,477.5 450.9,479.2 451.4,475.3 451.9,474.5 452.4,475.8 452.9,472.6 453.4,478.9 453.9,475.5 453.9,474.6 454.1,443.1 454.4,474.1 454.4,473.4 454.9,474.1 455.4,477.0 455.9,473.1 456.4,475.5 456.9,474.0 457.3,476.1 457.4,473.3 457.9,477.7 458.4,478.7 458.9,475.8 459.4,476.0 459.5,477.4 459.9,478.2 460.4,474.3 460.9,477.9 461.4,478.5 461.9,476.8 462.3,474.0 462.4,474.2 462.9,470.6 463.4,468.8 463.9,470.7 464.4,474.0 464.9,473.7 465.2,475.6 465.4,474.9 465.9,471.0 466.4,471.7 466.6,474.9 466.9,472.2 467.4,470.2 467.9,476.2 468.1,472.1 468.4,471.5 468.9,473.4 469.4,471.5 469.9,471.2 470.2,474.7 470.4,475.9 470.9,472.4 471.4,470.2 471.9,473.0 472.4,472.4 472.4,472.7 472.9,470.9 473.4,475.7 473.9,470.6 474.4,469.9 474.5,477.3 474.9,477.6 475.4,473.2 475.9,472.7 476.4,475.7 476.7,476.7 476.9,472.5 477.4,473.1 477.5,470.7 477.9,449.0 478.3,428.9 478.4,412.9 478.4,405.3 478.7,442.4 478.9,449.0 479.4,473.9 479.5,477.5 479.9,476.5 480.4,474.5 480.7,475.5 480.9,472.0 481.4,473.9 481.9,474.0 482.4,466.2 482.4,475.0 482.9,473.5 483.4,471.7 483.9,468.3 484.1,465.2 484.4,467.4 484.9,446.9 484.9,443.1 485.3,415.8 485.4,422.7 485.7,473.2 485.9,473.6 486.4,472.1 486.9,466.4 487.4,466.6 487.9,464.9 488.4,463.3 488.9,469.7 489.0,467.4 489.3,453.2 489.4,455.2 489.7,466.7 489.9,472.2 490.4,473.5 490.9,466.1 491.4,472.3 491.9,471.0 492.4,467.6 492.9,472.4 493.4,474.2 493.9,474.0 493.9,476.5 494.4,475.3 494.9,471.8 495.4,474.4 495.9,470.7 496.4,475.3 496.8,473.8 496.9,473.9 497.4,470.8 497.9,471.1 498.4,472.9 498.9,473.4 499.4,477.9 499.7,474.0 499.9,475.4 500.4,473.7 500.9,477.6 501.4,482.6 501.8,476.0 501.9,481.1 502.4,475.0 502.9,482.0 503.3,478.4 503.4,474.7 503.9,481.2 504.4,482.5 504.9,476.4 505.4,477.3 505.4,479.1 505.9,481.5 506.4,486.1 506.9,485.7 507.4,482.2 507.6,480.3 507.9,484.0 508.4,483.8 508.9,481.7 509.4,484.0 509.7,485.6 509.9,480.5 510.4,479.7 510.9,482.7 511.4,475.3 511.9,473.8 512.4,474.2 512.6,480.4 512.9,473.7 513.4,473.4 513.9,478.9 514.0,480.4 514.4,480.3 514.9,476.9 515.4,481.9 515.8,474.0 515.9,477.0 516.4,476.2 516.9,476.9 517.4,472.3 517.6,472.0 517.9,478.5 518.4,473.2 518.9,474.7 519.4,478.0 519.8,473.5 519.9,473.9 520.4,475.9 520.9,472.4 521.4,472.0 521.9,476.4 522.4,474.5 522.6,472.4 522.9,473.9 523.4,476.8 523.9,477.6 524.1,475.7 524.4,474.0 524.9,478.8 525.4,473.9 525.9,478.2 526.2,473.5 526.4,479.6 526.9,478.3 527.4,476.2 527.9,475.7 528.4,477.4 528.4,479.0 528.9,478.4 529.4,480.1 529.9,476.0 530.4,477.1 530.5,479.3 530.9,476.5 531.4,479.9 531.9,476.4 532.4,474.7 532.7,479.1 532.9,475.5 533.4,476.5 533.9,477.2 534.4,478.9 534.9,474.0 535.4,480.0 535.5,477.5 535.9,475.8 536.4,475.5 536.9,481.0 537.2,480.7 537.4,477.3 537.9,475.6 538.4,480.9 538.9,472.8 539.3,473.1 539.4,476.8 539.9,478.7 540.4,476.6 540.9,478.8 541.4,478.3 541.5,479.2 541.9,478.8 542.4,478.5 542.9,478.5 543.4,479.8 543.9,478.1 544.4,480.2 544.4,478.7 544.9,477.1 545.4,478.0 545.9,478.0 546.4,476.1 546.9,474.2 547.2,476.7 547.4,476.7 547.9,477.0 548.4,475.9 548.9,475.2 549.4,473.9 549.9,473.6 550.1,472.6 550.4,477.7 550.9,476.9 551.4,475.7 551.9,474.9 552.3,476.3 552.4,481.0 552.9,476.5 553.4,475.0 553.7,478.0 553.9,477.6 554.4,480.8 554.9,479.6 555.4,478.8 555.9,483.4 556.4,482.4 556.6,478.1 556.9,479.0 557.4,481.9 557.9,480.6 558.4,484.4 558.7,484.5 558.9,481.8 559.4,485.2 559.9,483.3 560.4,481.5 560.9,483.3 561.4,483.0 561.9,483.3 562.4,483.5 562.9,483.3 563.4,481.2 563.7,481.2 563.9,479.5 564.4,481.2 564.9,480.2 565.4,480.5 565.9,483.5 565.9,481.4 566.4,481.7 566.9,483.7 567.4,483.9 567.9,483.0 568.4,482.8 568.8,480.4 568.9,478.0 569.4,479.1 569.9,476.5 570.4,480.2 570.9,477.4 571.4,475.8 571.6,476.8 571.9,466.3 572.4,470.8 572.9,477.0 573.1,475.8 573.4,472.7 573.9,473.2 574.4,468.1 574.5,467.9 574.9,465.5 575.3,442.9 575.4,430.9 575.5,413.0 575.7,443.1 575.9,475.7 575.9,472.1 576.4,465.9 576.9,473.9 577.4,474.4 577.9,474.4 578.1,474.3 578.4,474.1 578.9,475.3 579.4,470.5 579.5,477.9 579.9,471.8 580.4,471.4 580.9,479.4 581.4,471.5 581.7,473.3 581.9,476.1 582.4,477.2 582.9,471.9 583.4,468.8 583.9,474.1 584.2,473.1 584.4,474.5 584.6,454.8 584.9,474.0 584.9,473.6 585.4,473.2 585.9,472.3 586.4,471.7 586.9,472.1 587.4,476.6 587.4,470.1 587.9,475.7 588.4,477.1 588.9,480.8 589.4,477.4 589.6,478.6 589.9,481.9 590.4,480.8 590.9,476.8 591.4,475.9 591.8,478.9 591.9,479.3 592.4,476.2 592.9,472.4 593.4,467.4 593.9,464.7 593.9,466.7 594.4,465.2 594.9,473.9 595.3,473.9 595.4,470.4 595.9,438.9 596.1,428.4 596.3,347.0 596.4,358.5 596.9,440.7 596.9,442.3 597.4,473.0 597.7,469.8 597.9,471.3 598.4,469.7 598.9,473.4 599.4,465.8 599.6,469.1 599.9,473.8 600.4,473.3 600.9,472.3 601.1,465.6 601.4,469.4 601.9,481.1 602.4,480.7 602.5,479.4 602.9,471.6 603.4,471.7 603.9,474.4 604.4,480.0 604.7,473.9 604.9,473.4 605.4,473.2 605.9,476.1 606.4,473.4 606.8,476.5 606.9,466.9 607.4,465.8 607.9,472.9 608.4,464.7 608.9,470.3 609.4,469.7 609.7,466.0 609.9,466.5 610.0,454.7 610.3,464.3 610.4,473.0 610.9,464.5 611.4,465.6 611.9,470.0 612.4,465.2 612.9,473.3 613.3,468.1 613.4,464.7 613.9,465.9 614.4,476.4 614.9,478.6 615.4,475.5 615.9,476.7 616.2,477.7 616.4,478.7 616.9,479.6 617.4,477.0 617.9,477.4 618.3,481.0 618.4,481.2 618.9,477.7 619.4,481.8 619.9,476.0 620.4,480.9 620.9,481.7 621.2,479.4 621.4,480.3 621.9,476.2 622.4,481.2 622.9,480.2 623.3,479.5 623.4,479.8 623.9,477.4 624.4,483.1 624.9,480.7 625.4,481.3 625.5,477.9 625.9,481.4 626.4,478.4 626.9,482.5 627.4,476.9 627.9,478.9 628.4,480.8 628.4,481.9 628.9,484.6 629.4,478.7 629.9,481.2 630.4,475.8 630.5,478.7 630.9,476.7 631.4,474.3 631.9,476.8 632.4,474.4 632.9,472.7 633.4,475.6 633.4,471.2 633.9,478.1 634.4,470.7 634.9,476.5 635.0,469.6 635.4,477.1 635.9,469.6 636.4,469.2 636.4,470.1 636.9,476.0 637.4,471.4 637.9,471.8 638.4,475.7 638.9,469.4 639.4,474.4 639.9,473.5 640.0,471.1 640.4,480.0 640.9,476.3 641.4,478.7 641.9,479.9 642.2,481.3 642.4,476.0 642.9,475.1 643.4,482.2 643.9,471.6 644.3,473.0 644.4,472.0 644.9,477.0 645.4,471.6 645.8,476.0 645.9,472.8 646.4,466.8 646.4,472.7 646.9,455.1 647.2,443.1 647.4,426.6 647.5,411.1 647.8,475.3 647.9,471.1 648.4,470.0 648.9,467.9 649.4,466.1 649.9,465.4 650.4,465.0 650.8,466.5 650.9,463.0 651.4,464.5 651.9,466.3 652.4,470.9 652.9,467.6 653.0,468.8 653.4,472.1 653.9,471.2 654.4,470.3 654.4,469.4 654.9,469.2 655.4,465.2 655.9,464.5 656.4,463.7 656.5,464.1 656.9,469.2 657.4,469.1 657.9,463.5 658.4,471.4 658.9,467.5 659.0,468.5 659.4,399.5 659.4,394.2 659.8,463.9 659.9,465.2 660.4,467.0 660.9,467.3 661.4,467.6 661.9,471.3 662.3,463.1 662.4,468.9 662.9,466.7 663.4,470.2 663.9,469.4 664.4,471.9 664.4,472.2 664.9,471.6 665.4,467.7 665.9,471.4 666.4,473.4 666.9,473.4 667.3,474.7 667.4,470.4 667.9,467.0 668.4,473.0 668.9,469.2 669.4,472.4 669.5,467.3 669.9,469.9 670.4,472.2 670.9,467.9 671.4,469.6 671.9,468.2 672.3,474.4 672.4,473.4 672.9,472.3 673.4,468.9 673.9,473.1 674.4,465.4 674.9,469.2 675.0,463.1 675.4,467.9 675.9,442.9 675.9,441.4 676.0,429.5 676.3,373.2 676.4,383.6 676.7,428.3 676.9,451.2 676.9,467.2 677.4,469.7 677.9,463.6 678.4,469.7 678.9,464.4 679.4,460.2 679.9,464.3 680.4,460.5 680.9,462.6 681.0,464.9 681.4,462.5 681.9,465.4 682.4,465.7 682.9,466.4 683.4,464.7 683.8,467.2 683.9,467.7 684.4,465.9 684.9,468.6 685.4,468.4 685.9,466.2 686.4,468.2 686.7,468.2 686.9,465.5 687.4,467.6 687.9,468.3 688.4,467.8 688.9,465.6 689.4,466.5 689.6,467.0 689.9,466.4 690.4,465.9 690.9,464.0 691.4,462.5 691.9,462.3 692.4,461.4 692.4,461.9 692.9,463.4 693.4,460.0 693.9,461.9 694.4,464.7 694.9,464.8 695.3,461.0 695.4,465.1 695.9,462.1 696.4,469.5 696.9,455.8 697.0,455.3 697.4,467.1 697.5,467.5 697.9,464.8 698.4,466.1 698.9,465.4 698.9,468.4 699.4,466.7 699.9,468.2 700.4,467.7 700.9,471.7 701.0,473.6 701.4,471.9 701.9,475.4 702.4,476.7 702.9,476.4 703.4,476.5 703.9,476.0 703.9,477.5 704.4,474.2 704.9,476.1 705.4,477.2 705.9,475.9 706.1,475.7 706.4,469.3 706.9,467.5 707.4,469.2 707.9,472.9 708.2,468.4 708.4,468.2 708.9,477.1 709.4,470.7 709.9,467.8 710.4,471.3 710.4,471.0 710.9,469.2 711.4,464.3 711.8,465.4 711.9,462.8 712.4,466.7 712.9,468.0 713.4,463.3 713.9,467.9 714.0,469.9 714.4,469.6 714.9,466.1 715.4,465.5 715.4,469.2 715.9,465.3 716.4,472.9 716.9,469.8 716.9,467.9 717.4,472.3 717.9,466.9 718.4,469.8 718.9,469.7 719.0,465.8 719.4,472.6 719.9,473.2 720.4,472.2 720.9,475.9 721.2,476.2 721.4,478.2 721.9,477.4 722.4,478.2 722.9,477.7 723.4,477.1 723.9,474.9 724.0,475.9 724.4,474.3 724.9,475.5 725.4,477.0 725.9,477.9 726.4,476.8 726.9,479.6 726.9,479.8 727.4,478.9 727.9,471.2 728.0,473.0 728.4,476.0 728.9,478.8 729.4,472.8 729.9,479.2 730.2,480.0 730.4,471.4 730.9,477.1 731.4,471.7 731.6,468.6 731.9,468.2 732.4,470.0 732.9,465.6 733.4,474.3 733.8,471.2 733.9,469.8 734.4,474.9 734.9,473.7 735.4,468.5 735.7,467.0 735.9,470.0 736.4,468.0 736.7,473.0 736.9,466.8 737.4,465.1 737.9,463.9 738.4,465.5 738.8,464.7 738.9,473.2 739.4,470.8 739.9,471.9 740.4,475.3 740.9,471.9 741.4,470.8 741.7,466.3 741.9,466.5 742.4,466.9 742.9,466.2 743.4,461.8 743.9,462.4 744.4,461.4 744.9,461.2 745.4,462.1 745.8,463.2 745.9,450.4 746.0,437.1 746.2,421.7 746.4,414.1 746.4,410.2 746.7,442.5 746.9,450.5 747.0,464.8 747.4,467.7 747.9,463.4 748.4,473.1 748.9,470.2 749.4,472.9 749.9,471.1 750.3,471.1 750.4,473.2 750.9,472.0 751.4,468.7 751.9,468.0 752.4,474.3 752.5,466.8 752.9,468.0 753.4,465.5 753.9,467.6 754.4,470.2 754.6,466.0 754.9,468.5 755.4,470.4 755.6,468.1 755.9,472.0 756.4,469.4 756.8,466.1 756.9,469.8 757.4,466.2 757.9,465.3 758.4,463.2 758.9,469.3 758.9,463.3 759.4,464.8 759.9,467.8 760.4,471.8 760.9,471.8 761.4,471.5 761.8,472.5 761.9,472.9 762.4,472.1 762.9,473.0 763.4,471.7 763.9,472.3 764.0,471.1 764.4,453.6 764.7,441.6 764.9,440.8 765.4,438.7 765.9,436.6 766.4,434.4 766.9,432.3 767.4,430.2 767.7,428.7 767.9,426.9 768.3,422.3 768.3,422.3 767.9,470.4 767.7,470.4 767.4,470.7 766.9,471.1 766.4,471.4 765.9,471.7 765.4,472.1 764.9,472.5 764.7,472.5 764.4,472.9 764.0,472.6 763.9,473.0 763.4,473.3 762.9,473.8 762.4,473.5 761.9,473.6 761.8,473.6 761.4,473.8 760.9,473.6 760.4,473.4 759.9,472.7 759.4,472.6 758.9,473.1 758.9,472.3 758.4,472.3 757.9,472.6 757.4,473.2 756.9,477.0 756.8,476.0 756.4,479.4 755.9,479.6 755.6,479.7 755.4,479.8 754.9,480.0 754.6,478.9 754.4,478.9 753.9,479.5 753.4,480.0 752.9,479.1 752.5,479.8 752.4,478.7 751.9,479.6 751.4,480.1 750.9,480.0 750.4,479.2 750.3,478.5 749.9,478.8 749.4,479.4 748.9,479.7 748.4,478.9 747.9,474.7 747.4,471.1 747.0,468.3 746.9,468.9 746.7,465.1 746.4,465.1 746.4,465.3 746.2,465.3 746.0,465.3 745.9,465.9 745.8,465.4 745.4,465.5 744.9,465.9 744.4,466.6 743.9,467.0 743.4,467.8 742.9,468.2 742.4,470.2 741.9,473.3 741.7,472.9 741.4,475.5 740.9,477.7 740.4,478.8 739.9,479.5 739.4,479.0 738.9,479.2 738.8,478.9 738.4,479.1 737.9,478.5 737.4,478.2 736.9,478.2 736.7,479.3 736.4,479.2 735.9,478.4 735.7,479.1 735.4,478.3 734.9,477.8 734.4,482.3 733.9,483.5 733.8,483.3 733.4,483.0 732.9,484.6 732.4,483.3 731.9,483.2 731.6,483.6 731.4,484.0 730.9,483.6 730.4,484.1 730.2,484.1 729.9,484.7 729.4,485.1 728.9,484.4 728.4,484.3 728.0,484.3 727.9,483.6 727.4,484.7 726.9,485.1 726.9,485.5 726.4,485.2 725.9,483.0 725.4,479.8 724.9,476.9 724.4,476.9 724.0,477.1 723.9,477.8 723.4,479.0 722.9,479.6 722.4,479.7 721.9,479.6 721.4,479.7 721.2,479.6 720.9,479.6 720.4,479.2 719.9,478.8 719.4,479.4 719.0,478.5 718.9,477.9 718.4,478.4 717.9,478.4 717.4,477.9 716.9,478.7 716.9,478.5 716.4,478.1 715.9,478.5 715.4,478.1 715.4,478.1 714.9,477.9 714.4,475.7 714.0,474.5 713.9,474.1 713.4,472.8 712.9,470.8 712.4,470.5 711.9,470.9 711.8,470.5 711.4,473.1 710.9,476.1 710.4,476.4 710.4,479.2 709.9,482.3 709.4,481.1 708.9,481.7 708.4,481.7 708.2,481.4 707.9,481.8 707.4,481.8 706.9,481.8 706.4,480.7 706.1,481.4 705.9,482.3 705.4,482.5 704.9,481.6 704.4,482.2 703.9,482.1 703.9,482.3 703.4,482.6 702.9,482.6 702.4,481.9 701.9,481.0 701.4,477.9 701.0,476.7 700.9,476.3 700.4,475.6 699.9,475.6 699.4,475.7 698.9,475.4 698.9,476.2 698.4,475.5 697.9,476.3 697.5,476.6 697.4,475.5 697.0,476.8 696.9,476.8 696.4,473.8 695.9,471.7 695.4,470.1 695.3,467.6 694.9,468.1 694.4,467.3 693.9,466.9 693.4,465.5 692.9,465.5 692.4,465.6 692.4,465.3 691.9,466.6 691.4,468.0 690.9,469.1 690.4,469.4 689.9,469.8 689.6,469.8 689.4,469.8 688.9,470.0 688.4,469.6 687.9,469.9 687.4,469.6 686.9,469.6 686.7,469.6 686.4,469.9 685.9,470.0 685.4,470.0 684.9,469.8 684.4,470.0 683.9,469.9 683.8,469.5 683.4,469.7 682.9,469.8 682.4,469.3 681.9,468.6 681.4,468.3 681.0,467.8 680.9,467.2 680.4,467.2 679.9,467.0 679.4,466.4 678.9,473.2 678.4,473.5 677.9,472.9 677.4,473.6 676.9,473.9 676.9,474.7 676.7,474.7 676.4,474.7 676.3,474.7 676.0,474.7 675.9,475.6 675.9,475.6 675.4,475.4 675.0,475.1 674.9,476.5 674.4,476.8 673.9,477.7 673.4,479.0 672.9,479.0 672.4,479.1 672.3,478.8 671.9,478.3 671.4,479.2 670.9,478.6 670.4,478.3 669.9,478.9 669.5,478.4 669.4,478.3 668.9,478.7 668.4,479.3 667.9,478.3 667.4,479.5 667.3,478.6 666.9,478.4 666.4,479.1 665.9,479.1 665.4,477.7 664.9,476.6 664.4,475.9 664.4,476.8 663.9,476.4 663.4,475.4 662.9,476.2 662.4,475.4 662.3,475.6 661.9,475.7 661.4,475.9 660.9,475.8 660.4,475.5 659.9,477.0 659.8,477.0 659.4,477.5 659.4,477.5 659.0,477.6 658.9,477.9 658.4,477.8 657.9,477.5 657.4,477.3 656.9,476.9 656.5,477.2 656.4,476.5 655.9,476.9 655.4,477.4 654.9,476.7 654.4,476.8 654.4,477.0 653.9,477.2 653.4,477.6 653.0,477.1 652.9,476.6 652.4,476.2 651.9,474.7 651.4,475.1 650.9,475.3 650.8,474.1 650.4,474.1 649.9,474.8 649.4,474.9 648.9,480.1 648.4,484.1 647.9,486.1 647.8,484.5 647.5,486.1 647.4,486.1 647.2,486.1 646.9,486.1 646.4,484.8 646.4,484.7 645.9,484.8 645.8,485.4 645.4,485.0 644.9,484.2 644.4,485.0 644.3,485.6 643.9,484.9 643.4,485.7 642.9,486.7 642.4,486.1 642.2,486.4 641.9,486.6 641.4,486.5 640.9,485.5 640.4,485.9 640.0,483.8 639.9,484.6 639.4,482.6 638.9,483.1 638.4,482.8 637.9,482.9 637.4,483.6 636.9,482.6 636.4,483.5 636.4,483.8 635.9,482.7 635.4,480.8 635.0,479.8 634.9,480.0 634.4,481.4 633.9,482.2 633.4,482.5 633.4,484.6 632.9,485.1 632.4,486.4 631.9,486.4 631.4,487.5 630.9,487.4 630.5,487.4 630.4,487.9 629.9,487.3 629.4,488.4 628.9,488.0 628.4,488.3 628.4,488.2 627.9,488.0 627.4,487.5 626.9,487.7 626.4,487.4 625.9,487.9 625.5,487.1 625.4,487.3 624.9,487.9 624.4,488.1 623.9,486.5 623.4,485.6 623.3,484.7 622.9,484.9 622.4,484.9 621.9,485.0 621.4,484.6 621.2,485.1 620.9,485.2 620.4,484.8 619.9,484.9 619.4,485.4 618.9,484.5 618.4,485.0 618.3,485.3 617.9,485.4 617.4,484.5 616.9,484.5 616.4,483.3 616.2,483.6 615.9,483.3 615.4,482.1 614.9,481.9 614.4,480.9 613.9,478.2 613.4,477.2 613.3,476.8 612.9,477.7 612.4,477.1 611.9,477.5 611.4,478.1 610.9,477.9 610.4,477.5 610.3,477.2 610.0,477.5 609.9,477.6 609.7,478.0 609.4,476.9 608.9,476.8 608.4,476.6 607.9,478.7 607.4,480.7 606.9,484.0 606.8,483.7 606.4,485.0 605.9,484.7 605.4,485.8 604.9,486.1 604.7,485.5 604.4,486.5 603.9,485.4 603.4,486.1 602.9,485.0 602.5,485.6 602.4,485.2 601.9,486.4 601.4,484.2 601.1,485.9 600.9,485.6 600.4,484.0 599.9,485.3 599.6,485.5 599.4,485.3 598.9,484.2 598.4,484.2 597.9,481.9 597.7,479.2 597.4,478.8 596.9,475.7 596.9,478.0 596.4,481.0 596.3,481.0 596.1,481.0 595.9,484.0 595.4,484.0 595.3,484.7 594.9,484.6 594.4,484.0 593.9,483.2 593.9,484.6 593.4,484.6 592.9,484.4 592.4,484.4 591.9,484.8 591.8,484.5 591.4,484.8 590.9,485.4 590.4,484.8 589.9,485.2 589.6,485.3 589.4,484.8 588.9,485.2 588.4,484.7 587.9,484.9 587.4,482.1 587.4,482.4 586.9,479.7 586.4,478.0 585.9,477.1 585.4,477.4 584.9,479.7 584.9,479.1 584.6,479.4 584.4,481.1 584.2,481.6 583.9,483.1 583.4,483.8 582.9,484.6 582.4,484.6 581.9,483.4 581.7,484.1 581.4,485.0 580.9,483.4 580.4,485.1 579.9,483.8 579.5,484.5 579.4,483.6 578.9,483.8 578.4,484.4 578.1,484.4 577.9,484.2 577.4,484.5 576.9,484.2 576.4,483.3 575.9,484.5 575.9,484.7 575.7,484.7 575.5,483.5 575.4,483.5 575.3,482.1 574.9,482.3 574.5,482.7 574.4,481.8 573.9,482.5 573.4,483.1 573.1,482.6 572.9,482.8 572.4,483.0 571.9,483.8 571.6,483.7 571.4,484.4 570.9,484.7 570.4,484.8 569.9,484.7 569.4,484.8 568.9,485.2 568.8,485.4 568.4,485.4 567.9,485.7 567.4,485.7 566.9,485.7 566.4,485.6 565.9,485.6 565.9,485.5 565.4,485.7 564.9,485.4 564.4,485.4 563.9,485.2 563.7,485.5 563.4,485.2 562.9,485.8 562.4,485.3 561.9,487.1 561.4,486.5 560.9,487.6 560.4,487.8 559.9,488.5 559.4,488.5 558.9,488.6 558.7,487.8 558.4,488.1 557.9,487.9 557.4,488.5 556.9,488.0 556.6,487.8 556.4,487.8 555.9,487.6 555.4,488.0 554.9,487.2 554.4,487.3 553.9,487.4 553.7,487.6 553.4,487.3 552.9,487.3 552.4,486.9 552.3,486.2 551.9,486.1 551.4,484.1 550.9,482.5 550.4,481.5 550.1,479.7 549.9,479.7 549.4,479.4 548.9,479.7 548.4,479.7 547.9,479.9 547.4,479.8 547.2,479.8 546.9,480.0 546.4,480.2 545.9,480.2 545.4,480.4 544.9,481.6 544.4,482.6 544.4,482.5 543.9,484.1 543.4,485.5 542.9,485.2 542.4,485.3 541.9,485.7 541.5,485.3 541.4,485.2 540.9,485.3 540.4,485.5 539.9,485.2 539.4,485.2 539.3,485.0 538.9,485.0 538.4,485.1 537.9,485.2 537.4,484.3 537.2,485.1 536.9,485.0 536.4,484.3 535.9,484.7 535.5,484.1 535.4,485.1 534.9,484.0 534.4,482.7 533.9,483.0 533.4,483.4 532.9,483.7 532.7,483.8 532.4,483.0 531.9,484.0 531.4,483.7 530.9,483.1 530.5,483.7 530.4,483.9 529.9,483.8 529.4,483.7 528.9,483.9 528.4,483.4 528.4,483.7 527.9,483.4 527.4,483.0 526.9,483.4 526.4,482.9 526.2,483.4 525.9,483.0 525.4,483.7 524.9,483.0 524.4,483.0 524.1,482.7 523.9,482.8 523.4,482.4 522.9,481.7 522.6,481.8 522.4,482.1 521.9,482.2 521.4,482.3 520.9,482.2 520.4,481.8 519.9,482.1 519.8,482.5 519.4,482.0 518.9,481.9 518.4,482.4 517.9,481.7 517.6,481.6 517.4,481.7 516.9,484.9 516.4,487.0 515.9,487.2 515.8,487.7 515.4,486.7 514.9,488.0 514.4,487.2 514.0,486.7 513.9,487.8 513.4,487.2 512.9,486.8 512.6,487.9 512.4,486.7 511.9,487.6 511.4,487.4 510.9,487.9 510.4,488.0 509.9,488.8 509.7,488.6 509.4,489.4 508.9,489.6 508.4,489.2 507.9,489.1 507.6,489.9 507.4,489.0 506.9,489.4 506.4,489.2 505.9,488.8 505.4,488.5 505.4,488.9 504.9,488.1 504.4,487.4 503.9,487.5 503.4,487.6 503.3,488.1 502.9,488.0 502.4,487.4 501.9,486.6 501.8,487.4 501.4,487.1 500.9,485.6 500.4,484.6 499.9,483.3 499.7,481.8 499.4,482.1 498.9,479.3 498.4,477.6 497.9,477.9 497.4,478.0 496.9,477.8 496.8,477.7 496.4,477.9 495.9,477.8 495.4,478.2 494.9,478.0 494.4,478.6 493.9,478.2 493.9,478.0 493.4,478.5 492.9,477.6 492.4,477.7 491.9,477.3 491.4,477.9 490.9,477.1 490.4,477.6 489.9,477.7 489.7,477.3 489.4,476.8 489.3,476.1 489.0,475.9 488.9,475.8 488.4,475.4 487.9,480.2 487.4,480.0 486.9,480.1 486.4,480.1 485.9,479.2 485.7,479.5 485.4,480.4 485.3,480.4 484.9,480.4 484.9,480.4 484.4,479.8 484.1,479.6 483.9,479.9 483.4,479.6 482.9,480.5 482.4,480.6 482.4,480.7 481.9,480.7 481.4,480.4 480.9,480.4 480.7,480.4 480.4,480.5 479.9,480.6 479.5,480.7 479.4,481.1 478.9,480.4 478.7,480.4 478.4,480.1 478.4,480.1 478.3,477.6 477.9,477.6 477.5,475.8 477.4,477.7 476.9,480.4 476.7,480.4 476.4,481.8 475.9,481.8 475.4,481.4 474.9,482.0 474.5,482.4 474.4,481.4 473.9,481.1 473.4,481.1 472.9,482.4 472.4,481.3 472.4,482.3 471.9,481.5 471.4,481.7 470.9,481.5 470.4,482.4 470.2,482.2 469.9,481.5 469.4,482.1 468.9,481.7 468.4,481.9 468.1,480.0 467.9,480.8 467.4,480.6 466.9,480.2 466.6,480.7 466.4,480.1 465.9,480.6 465.4,480.5 465.2,480.9 464.9,481.1 464.4,480.9 463.9,478.7 463.4,475.0 462.9,475.0 462.4,477.0 462.3,477.4 461.9,479.8 461.4,481.6 460.9,481.9 460.4,482.4 459.9,481.9 459.5,482.4 459.4,482.4 458.9,482.4 458.4,482.1 457.9,482.3 457.4,482.4 457.3,482.4 456.9,482.1 456.4,482.5 455.9,481.8 455.4,481.9 454.9,481.6 454.4,482.1 454.4,481.9 454.1,481.8 453.9,482.5 453.9,482.2 453.4,482.3 452.9,481.0 452.4,479.2 451.9,479.6 451.4,482.3 450.9,483.6 450.9,483.9 450.4,484.7 449.9,484.6 449.4,485.0 448.9,484.5 448.7,485.5 448.4,484.7 447.9,485.4 447.4,484.6 446.9,485.4 446.5,484.9 446.4,485.2 445.9,484.6 445.4,485.5 445.1,485.4 444.9,485.4 444.4,484.7 443.9,484.9 443.4,485.0 442.9,485.0 442.4,483.9 442.2,483.4 441.9,482.7 441.4,481.5 440.9,480.3 440.4,478.5 439.9,477.4 439.4,475.9 439.4,474.2 438.9,474.4 438.4,473.8 437.9,474.2 437.9,473.5 437.4,474.1 436.9,471.9 436.4,472.3 435.9,472.0 435.4,472.2 435.1,469.9 434.9,469.9 434.4,468.2 433.9,468.2 433.4,468.4 432.9,467.7 432.5,467.7 432.4,468.9 432.2,468.9 431.9,469.9 431.8,468.9 431.4,469.9 430.9,470.4 430.4,470.5 429.9,470.8 429.4,470.5 429.3,470.2 428.9,470.9 428.4,470.9 427.9,470.3 427.4,470.8 427.1,470.9 426.9,470.6 426.4,471.1 425.9,471.0 425.4,471.4 425.0,471.5 424.9,471.5 424.4,471.2 423.9,471.5 423.4,471.3 423.4,471.2 422.9,471.3 422.4,471.4 421.9,471.5 421.4,471.5 420.9,471.5 420.5,471.2 420.4,471.5 419.9,471.4 419.4,471.2 418.9,471.2 418.4,471.2 417.9,472.6 417.4,473.9 416.9,474.2 416.4,473.9 416.2,473.9 415.9,474.0 415.4,473.8 414.9,472.9 414.4,473.6 413.9,473.6 413.4,473.0 413.3,473.1 412.9,473.7 412.4,473.6 412.3,473.9 412.0,473.6 411.9,473.9 411.5,474.7 411.4,473.6 411.0,472.9 410.9,472.9 410.7,473.6 410.4,472.8 409.9,473.4 409.7,473.5 409.4,473.7 408.9,473.3 408.4,473.2 407.9,473.8 407.6,473.8 407.4,474.7 407.3,474.7 406.9,474.7 406.8,474.7 406.4,472.9 405.9,472.7 405.4,470.7 404.9,467.1 404.4,465.5 403.9,465.3 403.4,465.4 403.3,465.2 402.9,465.4 402.4,465.3 401.9,465.4 401.4,465.5 400.9,465.3 400.4,465.3 400.4,465.0 399.9,465.6 399.4,466.0 398.9,464.7 398.4,463.2 397.9,461.8 397.5,460.3 397.4,460.3 396.9,458.8 396.4,457.3 395.9,456.1 395.4,434.2 394.9,430.4 394.6,428.7 394.4,394.8 394.4,461.7 393.9,463.2 393.9,463.2 393.4,463.2 392.9,463.3 392.4,464.3 391.9,465.3 391.4,466.3 391.1,466.3 390.9,467.3 390.4,467.6 390.3,467.6 389.9,468.8 389.4,470.5 388.9,470.6 388.9,472.0 388.4,473.5 387.9,474.9 387.4,475.0 386.9,475.2 386.4,475.1 386.1,474.9 385.9,475.1 385.4,474.7 384.9,474.7 384.4,474.3 383.9,475.1 383.9,475.3 383.7,474.5 383.5,476.1 383.4,476.1 383.1,476.1 382.9,476.1 382.4,476.1 381.9,476.1 381.4,476.1 380.9,476.1 380.4,476.1 380.3,476.1 379.9,475.6 379.8,462.1 379.5,461.6 379.4,463.2 378.9,464.6 378.4,465.1 377.9,465.5 377.4,465.4 377.4,465.4 376.9,465.4 376.4,465.6 375.9,465.5 375.4,465.2 374.9,465.4 374.6,465.4 374.4,465.1 373.9,465.3 373.4,465.3 372.9,465.3 372.4,465.7 372.4,465.4 371.9,466.0 371.6,466.0 371.4,466.0 371.4,466.0 370.9,466.0 370.9,466.0 370.4,466.0 369.9,466.0 369.4,466.0 368.9,466.0 368.4,463.7 367.9,461.7 367.4,461.7 367.4,461.7 366.9,461.7 366.4,461.2 365.9,461.3 365.4,461.3 364.9,461.5 364.4,461.3 364.1,461.3 363.9,461.7 363.8,461.7 363.4,461.7 362.9,461.7 362.4,461.7 361.9,461.7 361.4,461.7 360.9,481.9 360.4,480.6 360.0,479.6 359.9,481.9 359.5,481.9 359.4,481.9 358.9,481.9 358.4,481.9 357.9,481.9 357.5,481.9 357.4,481.9 357.2,481.9 357.1,479.5 356.9,479.2 356.4,479.0 356.3,480.5 355.9,480.3 355.5,481.9 355.4,481.9 354.9,481.9 354.4,481.9 353.9,481.9 353.4,481.9 352.9,481.9 352.4,481.9 351.9,469.0 351.4,469.0 351.1,469.0 350.9,469.0 350.9,469.0 350.5,469.0 350.4,469.0 350.2,469.0 349.9,469.0 349.9,469.0 349.4,468.5 349.1,468.1 348.9,468.3 348.4,468.4 347.9,467.9 347.4,468.1 346.9,468.0 346.4,468.1 345.9,468.5 345.8,468.0 345.4,468.5 344.9,468.5 344.4,468.2 343.9,468.5 343.6,468.4 343.4,468.3 342.9,469.0 342.8,469.0 342.5,469.0 342.4,469.0 342.0,469.0 341.9,469.0 341.4,469.0 340.9,469.0 340.6,469.0 340.4,469.0 340.1,469.0 339.9,469.0 339.6,469.0 339.4,462.7 339.3,462.4 338.9,463.7 338.4,465.5 337.9,465.5 337.4,465.5 337.2,465.5 336.9,465.3 336.4,465.0 335.9,465.4 335.4,465.1 334.9,465.4 334.4,465.0 334.4,465.3 333.9,465.5 333.4,465.6 332.9,465.6 332.6,465.7 332.4,465.4 331.9,466.0 331.8,466.0 331.4,466.0 331.4,466.0 331.2,466.0 330.9,466.0 330.9,466.0 330.7,466.0 330.4,466.0 329.9,466.0 329.4,466.0 328.9,466.0 328.4,459.4 327.9,430.6 327.8,430.0 327.4,400.6 326.9,368.4 326.9,368.1 326.4,458.9 326.0,460.0 325.9,460.0 325.4,460.0 324.9,460.0 324.4,460.5 323.9,462.5 323.5,462.5 323.4,464.5 323.1,464.5 322.9,466.5 322.4,467.5 322.3,467.6 321.9,467.2 321.4,467.6 320.9,467.1 320.5,467.3 320.4,467.3 319.9,467.2 319.4,466.8 318.9,467.2 318.5,467.1 318.4,467.1 317.9,466.7 317.4,467.1 316.9,466.8 316.4,466.8 315.9,467.4 315.5,466.9 315.4,467.4 314.9,468.0 314.4,467.5 313.9,465.7 313.4,463.9 312.9,462.0 312.4,460.2 312.0,458.4 311.9,461.4 311.5,465.0 311.4,465.0 311.0,465.0 310.9,465.0 310.4,465.0 309.9,465.0 309.4,465.0 308.9,465.0 308.5,465.0 308.4,465.0 307.9,464.2 307.7,464.6 307.4,464.3 306.9,464.5 306.4,464.3 306.0,464.1 305.9,464.4 305.4,464.3 304.9,464.3 304.4,464.4 303.9,464.6 303.5,465.0 303.4,465.0 302.9,465.0 302.4,465.0 301.9,464.5 301.4,462.5 300.9,460.5 300.4,458.5 300.1,456.5 299.9,456.5 299.6,357.9 299.4,387.9 299.1,423.1 298.9,423.6 298.4,457.9 297.9,468.9 297.4,468.9 296.9,468.9 296.9,468.9 296.4,468.9 295.9,468.9 295.4,468.9 294.9,468.9 294.7,468.9 294.4,467.8 293.9,468.2 293.9,467.6 293.4,468.0 292.9,467.5 292.5,468.4 292.4,467.8 291.9,467.7 291.5,467.8 291.4,468.2 291.2,467.8 290.9,467.7 290.7,468.9 290.4,468.9 290.2,467.6 289.9,468.0 289.4,467.5 288.9,467.5 288.4,467.5 287.9,467.5 287.4,467.4 286.9,462.6 286.8,462.8 286.4,462.6 285.9,462.7 285.4,462.5 284.9,462.9 284.4,462.4 283.9,462.6 283.9,462.8 283.4,462.5 282.9,462.6 282.4,462.2 281.9,462.3 281.8,461.8 281.4,461.8 280.9,461.3 280.4,460.8 279.9,460.2 279.4,458.8 278.9,457.5 278.9,471.1 278.5,479.6 278.4,479.6 278.0,479.6 277.9,479.6 277.4,479.6 277.2,478.2 276.9,477.4 276.4,477.8 275.9,477.4 275.4,478.2 275.3,478.3 274.9,478.6 274.6,478.3 274.4,478.2 273.9,477.7 273.4,478.1 272.9,477.2 272.4,477.5 272.2,477.8 271.9,477.0 271.4,479.6 271.4,479.6 271.0,479.6 270.9,479.6 270.5,475.0 270.4,475.0 269.9,464.6 269.4,464.6 268.9,464.6 268.4,464.6 267.9,456.8 267.8,440.2 267.4,428.1 267.4,457.8 266.9,459.8 266.8,459.8 266.4,461.8 265.9,463.8 265.4,465.8 265.0,465.8 264.9,467.5 264.5,467.5 264.4,467.8 264.2,467.8 263.9,468.0 263.4,467.2 262.9,468.0 262.4,468.2 261.9,470.5 261.4,476.4 260.9,476.6 260.9,482.5 260.4,482.5 259.9,483.5 259.4,482.6 258.9,482.3 258.4,482.1 258.1,482.5 257.9,481.8 257.4,482.0 256.9,482.1 256.9,481.8 256.4,483.2 255.9,482.5 255.9,483.0 255.4,482.8 254.9,482.8 254.4,482.7 254.1,481.9 253.9,483.0 253.4,482.3 252.9,482.8 252.6,476.5 252.4,475.4 251.9,472.9 251.4,473.0 250.9,473.1 250.9,473.9 250.4,473.9 249.9,473.9 249.4,473.6 248.9,473.3 248.7,473.3 248.4,472.8 247.9,473.8 247.7,473.7 247.4,473.2 246.9,474.6 246.9,474.6 246.6,472.9 246.4,472.9 246.4,472.9 245.9,473.2 245.6,472.5 245.4,472.9 244.9,473.0 244.4,473.6 244.4,473.8 243.9,473.0 243.4,473.4 242.9,473.4 242.4,473.3 241.9,473.2 241.6,473.3 241.4,473.5 240.9,473.4 240.4,474.0 239.9,473.1 239.4,473.9 239.4,473.6 238.9,473.5 238.4,473.1 237.9,474.0 237.4,472.9 237.3,470.7 236.9,473.1 236.4,475.0 236.2,475.8 235.9,475.6 235.9,476.4 235.4,477.5 235.4,477.5 235.1,475.7 234.9,476.1 234.4,476.7 233.9,476.3 233.4,476.3 232.9,476.7 232.4,476.1 232.2,476.8 231.9,476.5 231.4,476.8 230.9,476.8 230.4,476.9 229.9,476.4 229.4,476.6 229.4,476.5 228.9,477.0 228.4,476.3 227.9,474.3 227.4,473.1 226.9,472.0 226.4,470.1 225.9,470.8 225.4,470.1 225.4,470.0 225.1,471.8 224.9,471.8 224.4,470.9 224.4,470.7 223.9,470.8 223.4,471.4 223.0,470.7 222.9,473.3 222.7,472.9 222.4,475.8 222.2,475.8 221.9,477.5 221.6,475.2 221.4,476.4 220.9,475.7 220.4,476.6 219.9,476.1 219.4,476.5 218.9,475.2 218.4,476.1 217.9,476.7 217.4,476.2 216.9,475.8 216.4,476.0 216.3,476.4 215.9,476.6 215.4,476.7 214.9,476.4 214.4,476.1 214.1,476.6 213.9,476.3 213.4,473.9 212.9,471.6 212.4,470.8 211.9,471.0 211.9,471.0 211.4,470.9 210.9,470.8 210.4,471.2 209.9,470.8 209.4,471.2 209.1,471.3 208.9,471.1 208.4,470.7 207.9,471.0 207.4,471.0 206.9,471.1 206.4,470.7 205.9,471.1 205.4,471.1 204.9,470.3 204.8,469.8 204.4,471.8 204.3,471.8 203.9,470.9 203.9,470.5 203.4,470.6 202.9,470.6 202.4,470.6 201.9,470.9 201.4,471.2 200.9,470.8 200.5,470.9 200.4,471.3 199.9,471.3 199.4,471.2 198.9,471.2 198.4,471.1 197.9,471.2 197.4,471.1 196.9,471.4 196.4,471.2 196.2,470.5 195.9,470.6 195.4,470.0 194.9,470.5 194.4,471.3 193.9,471.3 193.4,471.1 193.3,471.1 192.9,471.3 192.4,471.4 191.9,471.3 191.4,471.0 190.9,470.9 190.4,470.9 190.4,471.1 189.9,470.8 189.4,471.3 188.9,471.4 188.4,471.3 187.9,471.0 187.4,470.1 186.9,470.8 186.9,470.9 186.4,471.7 186.4,471.7 186.0,470.5 185.9,470.5 185.4,469.3 184.9,468.1 184.4,466.8 183.9,465.6 183.4,465.3 182.9,466.6 182.4,468.1 181.9,469.4 181.8,469.3 181.4,470.7 180.9,472.2 180.4,474.3 179.9,474.0 179.4,473.9 178.9,475.0 178.9,474.9 178.4,474.0 177.9,474.6 177.4,475.0 176.9,474.5 176.4,474.8 176.1,475.2 175.9,474.9 175.4,475.0 174.9,475.0 174.4,474.5 173.9,474.2 173.4,474.0 173.2,473.9 172.9,474.0 172.4,474.6 171.9,474.0 171.4,472.9 171.4,472.8 170.9,470.8 170.6,471.1 170.4,471.1 170.3,469.6 169.9,469.6 169.8,468.1 169.4,468.1 169.0,466.7 168.9,466.6 168.4,466.6 167.9,468.3 167.4,471.6 166.9,474.3 166.4,477.0 165.9,477.1 165.4,476.6 165.3,476.9 164.9,476.7 164.4,476.4 163.9,476.7 163.4,476.5 162.9,477.4 162.4,476.9 162.4,476.6 161.9,477.5 161.4,476.9 160.9,477.1 160.4,477.5 159.9,476.6 159.4,477.2 158.9,476.8 158.8,476.9 158.4,476.7 157.9,476.9 157.4,476.2 156.9,476.0 156.4,475.9 155.9,475.3 155.9,475.7 155.4,475.2 154.9,474.6 154.4,472.7 153.9,473.2 153.4,473.3 153.1,473.3 152.9,474.0 152.4,473.8 151.9,473.7 151.4,473.9 150.9,473.1 150.4,473.6 149.9,472.9 149.5,473.4 149.4,473.2 148.9,473.7 148.4,473.3 147.9,472.8 147.4,473.0 147.3,472.9 146.9,473.0 146.4,473.3 145.9,473.5 145.4,471.9 144.9,472.4 144.5,472.4 144.4,472.3 143.9,472.0 143.4,472.2 142.9,472.3 142.4,471.9 141.9,472.3 141.4,472.4 140.9,472.2 140.4,472.2 139.9,471.1 139.4,471.1 138.9,470.5 138.7,469.6 138.4,469.9 137.9,468.9 137.4,468.1 136.9,468.1 136.4,466.8 135.9,466.4 135.8,466.7 135.4,466.4 134.9,466.9 134.4,466.9 133.9,466.6 133.7,466.8 133.4,466.9 132.9,466.3 132.4,470.3 131.9,472.6 131.5,473.3 131.4,473.7 130.9,473.6 130.4,473.6 129.9,473.0 129.4,472.9 129.4,473.9 128.9,473.2 128.4,473.3 128.0,473.6 127.9,473.5 127.4,473.0 126.9,473.4 126.4,474.0 125.9,473.5 125.8,473.5 125.4,473.4 124.9,473.3 124.4,473.4 123.9,473.4 123.4,472.7 122.9,472.0 122.9,472.6 122.4,473.3 121.9,474.0 121.4,473.8 120.9,473.6 120.8,473.4 120.4,473.4 119.9,473.8 119.4,473.5 118.9,473.5 118.6,474.0 118.4,473.4 117.9,474.0 117.4,473.9 116.9,473.6 116.4,473.9 115.9,473.8 115.7,474.0 115.4,473.7 114.9,474.0 114.4,473.2 113.9,471.2 113.4,469.7 112.9,467.9" fill="#0000a0" stroke="#0000a0" stroke-width="0.8" stroke-linejoin="round"/>
<path d="M114.4,470.2 L114.5,473.6 M115.7,469.2 L115.9,463.9 M116.8,472.9 L116.5,474.5 M118.0,473.0 L118.3,475.8 M124.8,469.0 L125.0,461.8 M135.5,465.4 L135.7,467.3 M137.0,465.0 L137.1,459.5 M139.4,463.3 L139.6,455.8 M141.9,471.3 L142.1,473.6 M143.9,466.1 L143.6,458.9 M144.1,471.0 L144.2,474.7 M146.2,470.9 L145.8,475.8 M151.3,472.9 L151.6,476.9 M152.5,471.4 L152.3,464.7 M153.0,472.8 L152.9,475.2 M153.9,472.2 L154.2,475.3 M157.3,475.2 L157.7,478.2 M159.7,476.2 L159.5,477.8 M160.8,476.1 L161.0,477.9 M163.4,476.4 L163.3,480.4 M167.2,469.0 L166.9,457.8 M177.8,474.0 L177.8,476.8 M180.5,473.3 L180.7,474.8 M181.7,466.8 L181.5,455.7 M182.2,468.3 L182.1,470.9 M183.1,461.1 L183.1,454.3 M184.1,464.3 L183.7,467.7 M196.3,468.3 L196.3,464.8 M196.7,470.2 L196.9,471.3 M205.7,470.1 L206.0,472.4 M207.8,468.7 L207.9,459.1 M211.2,467.1 L211.4,462.4 M211.8,470.0 L212.0,473.5 M214.8,475.1 L214.7,478.8 M218.7,463.5 L218.6,457.1 M218.9,474.2 L219.2,479.2 M221.6,474.7 L221.3,479.0 M223.2,471.9 L223.1,476.4 M230.3,472.9 L230.5,464.5 M230.7,475.8 L231.1,477.3 M232.1,475.5 L232.3,479.0 M236.9,474.0 L236.8,478.6 M237.5,469.1 L237.5,463.2 M241.0,472.4 L241.2,476.7 M242.3,472.3 L242.6,477.0 M244.3,472.0 L244.1,475.9 M248.0,469.8 L248.2,460.8 M248.8,471.8 L248.8,475.2 M251.1,472.9 L251.1,477.4 M253.5,481.3 L253.8,486.4 M254.8,473.0 L254.5,459.8 M254.7,481.8 L255.1,486.7 M257.0,480.8 L257.3,485.9 M259.1,481.3 L259.2,484.5 M260.2,468.0 L260.5,461.2 M273.5,474.2 L273.6,460.1 M274.0,476.7 L274.2,479.9 M285.8,461.5 L285.5,464.5 M289.7,465.5 L289.4,459.9 M289.6,467.0 L290.0,469.2 M305.2,463.3 L305.6,465.0 M319.5,464.3 L319.5,458.8 M320.6,464.3 L321.0,460.0 M322.0,466.6 L321.6,468.9 M332.5,463.3 L332.5,458.3 M333.3,464.7 L333.1,465.3 M335.6,463.6 L336.0,459.5 M337.5,464.3 L337.2,458.0 M339.2,462.7 L339.3,464.5 M345.0,464.8 L344.7,459.9 M364.4,460.4 L364.5,457.1 M373.9,464.3 L373.8,466.9 M375.6,463.2 L375.4,456.4 M376.0,464.5 L376.0,466.4 M379.1,463.6 L379.4,466.5 M386.6,473.9 L386.6,478.2 M389.1,471.0 L389.0,473.3 M402.5,460.0 L402.2,457.2 M414.6,469.2 L414.4,460.9 M416.5,469.6 L416.7,465.5 M418.7,471.0 L419.0,464.6 M419.9,470.2 L419.6,473.1 M420.3,469.2 L420.4,465.5 M424.2,470.5 L424.4,466.8 M425.4,470.5 L425.0,472.3 M427.1,469.1 L427.2,460.6 M428.5,467.8 L428.8,460.7 M430.5,464.9 L430.9,457.3 M436.2,466.3 L436.3,460.4 M437.2,471.3 L436.9,473.9 M440.4,477.5 L440.8,481.5 M445.8,484.4 L445.5,486.9 M450.2,484.0 L449.9,487.6 M455.6,474.1 L455.6,467.4 M456.1,480.8 L456.2,484.9 M458.9,477.0 L459.1,471.3 M459.9,481.4 L459.7,483.0 M462.4,476.4 L462.5,480.5 M464.5,475.0 L464.1,469.8 M464.7,479.9 L464.7,481.3 M467.2,479.7 L467.0,482.0 M477.0,480.8 L476.9,484.1 M481.2,473.0 L480.8,468.3 M481.5,479.4 L481.4,481.3 M486.8,479.1 L486.5,483.8 M489.1,474.4 L488.8,477.0 M490.4,476.6 L490.8,479.9 M492.4,476.3 L492.1,479.1 M494.1,476.3 L494.1,468.5 M497.0,471.8 L496.9,468.5 M499.3,476.6 L498.9,480.2 M499.6,475.0 L499.5,466.4 M500.1,480.8 L500.1,484.7 M502.2,486.1 L502.0,491.2 M504.0,487.1 L503.7,490.6 M505.7,487.5 L506.0,491.9 M509.5,485.0 L509.2,475.5 M511.9,486.4 L511.8,491.4 M515.4,482.9 L515.2,474.4 M516.4,477.9 L516.6,471.1 M520.2,476.9 L520.3,468.0 M521.1,480.8 L520.9,485.0 M530.7,482.8 L530.4,486.4 M531.1,477.4 L531.4,465.8 M533.8,478.2 L533.6,470.7 M537.2,476.6 L537.4,468.3 M538.4,473.8 L538.8,467.8 M542.8,484.3 L543.0,486.6 M551.1,481.5 L551.0,485.0 M552.3,482.0 L552.4,473.0 M557.0,487.0 L557.2,490.7 M561.0,484.3 L560.7,477.4 M561.6,486.6 L561.3,488.9 M563.7,484.2 L563.8,486.5 M566.3,484.7 L566.5,479.0 M567.3,484.7 L567.1,485.9 M569.5,484.4 L569.2,486.6 M570.3,478.4 L570.5,462.8 M570.9,483.7 L571.1,486.6 M577.2,475.4 L577.5,457.3 M578.8,476.3 L578.8,466.1 M583.4,483.6 L583.3,488.0 M585.3,478.1 L585.2,480.6 M593.2,465.7 L593.5,461.0 M594.3,483.6 L594.1,488.4 M602.5,481.7 L602.2,468.7 M607.0,484.0 L606.7,488.1 M610.8,465.5 L610.5,460.5 M612.6,469.1 L612.9,460.9 M617.4,478.0 L617.1,473.0 M617.5,483.5 L617.7,485.8 M619.6,484.4 L619.9,487.4 M621.7,482.2 L622.0,477.8 M622.7,483.9 L622.6,486.1 M624.2,487.1 L624.5,490.7 M625.7,482.4 L625.7,476.1 M625.9,486.9 L626.3,491.1 M629.3,482.2 L629.6,476.7 M630.4,486.3 L630.2,489.7 M636.7,482.8 L636.7,484.7 M637.5,472.8 L637.6,462.6 M641.3,479.7 L640.9,473.1 M641.1,485.5 L641.5,487.3 M643.3,485.7 L643.3,488.5 M645.6,483.2 L645.3,487.6 M646.0,467.8 L646.3,461.9 M647.0,483.7 L646.9,488.0 M652.4,468.6 L652.7,457.4 M653.3,475.6 L653.3,481.6 M654.7,466.2 L654.9,460.6 M655.4,476.4 L655.5,479.7 M656.6,464.7 L656.2,459.3 M658.5,476.5 L658.2,479.7 M659.3,464.9 L659.6,457.1 M662.8,471.2 L662.9,460.0 M667.5,475.7 L667.2,468.5 M667.7,477.6 L667.8,481.9 M669.2,468.3 L669.4,461.9 M671.6,478.2 L671.5,480.4 M672.7,469.9 L672.9,457.2 M673.8,478.0 L673.5,480.3 M675.1,475.8 L674.9,479.0 M678.3,470.7 L678.3,459.8 M680.5,466.0 L680.4,467.7 M681.3,463.5 L681.3,459.3 M682.0,467.3 L681.9,470.6 M683.1,468.8 L683.1,470.5 M684.0,466.9 L684.4,464.0 M686.3,469.2 L686.3,464.4 M686.5,468.9 L686.9,470.1 M690.8,468.4 L690.6,471.8 M696.0,470.5 L696.1,461.3 M697.9,475.3 L698.3,478.4 M698.7,467.7 L699.0,462.6 M701.0,474.6 L700.9,478.3 M702.3,480.0 L702.1,484.2 M708.1,469.4 L708.2,463.1 M709.0,480.4 L708.8,485.5 M710.5,472.0 L710.4,464.3 M713.6,471.8 L713.5,474.2 M715.5,466.5 L715.2,458.3 M716.3,470.8 L716.4,460.5 M719.3,466.8 L718.9,462.5 M721.0,478.6 L721.2,481.6 M724.6,476.5 L724.4,472.5 M727.3,484.2 L727.0,487.6 M734.7,481.3 L734.7,483.8 M736.5,469.0 L736.3,458.5 M736.9,478.2 L736.9,480.2 M738.6,477.5 L738.2,481.1 M739.6,471.8 L739.3,463.9 M739.6,478.0 L739.9,483.0 M743.9,463.4 L743.7,456.8 M745.3,464.2 L745.6,459.6 M752.9,478.1 L753.1,482.1 M758.4,470.3 L758.4,458.7 M758.9,471.3 L759.0,473.7 M760.0,468.8 L759.9,463.6 M762.5,472.5 L762.8,475.9 M764.2,472.0 L764.0,474.9" fill="none" stroke="#0c0cac" stroke-width="1.15" stroke-linecap="butt"/>
<path d="M115.7,470.5 L115.7,464.9 M122.9,469.2 L122.9,462.7 M131.5,470.4 L131.5,457.7 M138.7,465.0 L138.7,457.0 M147.3,469.4 L147.3,458.4 M156.0,472.4 L156.0,462.7 M196.2,469.7 L196.2,466.3 M214.1,474.1 L214.1,461.3 M229.4,474.6 L229.4,468.5 M239.4,471.5 L239.4,462.0 M254.1,478.2 L254.1,459.9 M416.2,473.0 L416.2,467.0 M423.4,470.4 L423.4,467.0 M437.9,471.5 L437.9,467.1 M442.2,480.7 L442.2,472.8 M462.3,475.6 L462.3,471.4 M466.6,476.2 L466.6,465.6 M470.2,479.1 L470.2,464.2 M499.7,477.9 L499.7,468.5 M509.7,484.6 L509.7,477.1 M515.8,482.1 L515.8,467.1 M524.1,478.5 L524.1,468.5 M535.5,480.8 L535.5,468.5 M544.4,481.3 L544.4,475.7 M552.3,481.2 L552.3,469.9 M560.9,484.8 L560.9,477.8 M589.6,483.5 L589.6,474.2 M616.2,480.7 L616.2,471.4 M623.3,482.1 L623.3,472.8 M636.4,476.8 L636.4,464.2 M642.2,483.8 L642.2,478.5 M654.4,473.1 L654.4,458.4 M667.3,476.6 L667.3,462.7 M689.6,468.4 L689.6,464.2 M703.9,479.8 L703.9,472.8 M710.4,473.7 L710.4,462.0 M715.4,471.9 L715.4,459.9 M724.0,476.5 L724.0,474.2 M728.1,480.1 L728.1,472.8 M731.6,475.7 L731.6,465.6 M735.7,474.2 L735.7,458.4 M755.6,475.8 L755.6,458.4" fill="none" stroke="#0000a0" stroke-width="2.3" stroke-linecap="round"/>
<path d="M127.9,470.7 L128.1,474.1 M149.5,470.8 L149.7,474.1 M176.1,472.0 L176.3,475.5 M217.9,472.2 L218.1,476.9 M225.4,466.2 L225.6,471.2 M232.2,471.6 L232.4,476.9 M241.6,469.4 L241.8,474.1 M250.9,470.3 L251.1,474.1 M256.9,478.7 L257.1,484.1 M274.6,475.2 L274.8,479.1 M383.9,471.2 L384.1,475.5 M427.2,469.5 L427.4,471.2 M644.3,478.5 L644.5,485.6 M662.3,472.2 L662.5,476.9 M669.5,474.4 L669.7,479.8 M706.1,478.6 L706.3,482.7 M730.2,482.1 L730.4,485.6 M736.7,476.1 L736.9,479.8 M752.5,473.5 L752.7,480.5" fill="none" stroke="#0000a0" stroke-width="1.7" stroke-linecap="round"/>
<polyline points="112.9,466.6 113.4,468.7 113.9,469.4 114.4,471.5 114.9,472.8 115.4,471.6 115.7,471.6 115.9,470.5 116.4,471.0 116.9,471.4 117.4,472.0 117.9,472.4 118.4,471.0 118.6,470.5 118.9,470.3 119.4,472.0 119.9,470.2 120.4,470.7 120.8,472.1 120.9,469.5 121.4,471.3 121.9,472.4 122.4,470.0 122.9,470.4 122.9,470.6 123.4,469.2 123.9,470.8 124.4,471.5 124.9,471.3 125.4,470.7 125.8,470.0 125.9,470.8 126.4,470.3 126.9,470.0 127.4,469.0 127.9,471.0 128.0,470.7 128.4,468.8 128.9,469.7 129.4,468.9 129.4,469.1 129.9,468.7 130.4,470.3 130.9,469.1 131.4,469.5 131.5,470.4 131.9,468.8 132.4,468.5 132.9,463.4 133.4,465.1 133.7,464.3 133.9,464.2 134.4,464.8 134.9,464.4 135.4,463.9 135.8,462.9 135.9,463.0 136.4,464.8 136.9,465.3 137.4,466.0 137.9,467.4 138.4,467.3 138.7,465.0 138.9,466.4 139.4,467.9 139.9,466.7 140.4,470.2 140.9,470.1 141.4,469.9 141.9,468.4 142.4,469.6 142.9,467.3 143.4,468.1 143.9,468.6 144.4,469.7 144.5,468.8 144.9,467.6 145.4,468.2 145.9,469.1 146.4,468.9 146.9,468.2 147.3,469.2 147.4,469.4 147.9,470.5 148.4,470.8 148.9,470.0 149.4,469.5 149.5,470.8 149.9,471.0 150.4,470.5 150.9,470.7 151.4,471.7 151.9,469.6 152.4,472.1 152.9,470.5 153.1,470.7 153.4,471.6 153.9,471.1 154.4,469.3 154.9,472.3 155.4,470.7 155.9,472.0 155.9,473.3 156.4,472.4 156.9,473.1 157.4,473.8 157.9,474.5 158.4,474.3 158.8,471.6 158.9,473.1 159.4,473.5 159.9,471.7 160.4,474.4 160.9,474.5 161.4,474.7 161.9,475.4 162.4,471.9 162.4,472.4 162.9,474.3 163.4,471.9 163.9,472.3 164.4,473.5 164.9,472.1 165.3,474.5 165.4,474.6 165.9,471.8 166.4,473.6 166.9,471.4 167.4,469.8 167.9,465.0 168.4,463.3 168.9,465.2 169.0,465.3 169.4,455.3 169.8,448.8 169.9,443.2 170.3,418.0 170.4,424.7 170.6,450.3 170.9,468.7 171.4,469.1 171.4,467.6 171.9,467.9 172.4,469.4 172.9,471.4 173.2,468.0 173.4,467.8 173.9,469.5 174.4,468.3 174.9,469.0 175.4,472.0 175.9,472.7 176.1,473.3 176.4,472.0 176.9,470.5 177.4,471.0 177.9,471.4 178.4,472.3 178.9,472.9 178.9,469.7 179.4,467.8 179.9,471.5 180.4,471.8 180.9,468.4 181.4,468.4 181.8,467.5 181.9,466.8 182.4,466.4 182.9,463.0 183.4,462.7 183.9,455.3 184.4,454.4 184.9,453.6 185.4,452.7 185.9,451.9 186.0,451.7 186.4,444.2 186.4,443.8 186.9,466.3 186.9,467.5 187.4,467.1 187.9,468.9 188.4,469.9 188.9,468.8 189.4,468.8 189.9,468.9 190.4,469.1 190.4,468.6 190.9,470.0 191.4,470.1 191.9,469.4 192.4,469.8 192.9,469.5 193.3,469.8 193.4,469.5 193.9,469.9 194.4,470.5 194.9,469.2 195.4,469.1 195.9,469.5 196.2,469.7 196.4,469.2 196.9,470.3 197.4,470.5 197.9,470.0 198.4,469.5 198.9,470.1 199.4,470.0 199.9,469.7 200.4,468.7 200.5,470.1 200.9,469.6 201.4,468.4 201.9,468.7 202.4,467.2 202.9,469.6 203.4,469.1 203.9,468.6 203.9,469.1 204.3,448.9 204.4,449.5 204.8,467.1 204.9,468.3 205.4,467.5 205.9,469.6 206.4,468.3 206.9,468.4 207.4,467.5 207.9,469.0 208.4,469.2 208.9,469.0 209.1,468.5 209.4,469.7 209.9,467.8 210.4,469.5 210.9,468.7 211.4,467.9 211.9,468.6 211.9,468.9 212.4,467.8 212.9,469.9 213.4,470.5 213.9,474.1 214.1,474.1 214.4,471.0 214.9,473.2 215.4,472.1 215.9,473.8 216.3,472.8 216.4,472.3 216.9,473.9 217.4,470.8 217.9,473.0 218.4,472.2 218.9,468.9 219.4,472.9 219.9,471.8 220.4,473.6 220.9,471.8 221.4,470.9 221.6,473.4 221.9,455.8 222.2,443.8 222.4,448.6 222.7,468.6 222.9,468.7 223.0,468.9 223.4,467.3 223.9,468.8 224.4,467.9 224.4,466.9 224.9,452.3 225.1,450.3 225.4,468.6 225.4,466.8 225.9,466.2 226.4,466.4 226.9,469.9 227.4,468.2 227.9,471.7 228.4,470.3 228.9,475.8 229.4,474.6 229.4,473.5 229.9,475.4 230.4,473.9 230.9,474.3 231.4,473.3 231.9,471.6 232.2,471.8 232.4,471.6 232.9,472.0 233.4,471.4 233.9,471.3 234.4,474.8 234.9,471.4 235.1,472.7 235.4,449.9 235.4,448.9 235.9,473.8 235.9,474.1 236.2,472.4 236.4,470.2 236.9,471.8 237.3,467.4 237.4,469.7 237.9,471.0 238.4,471.7 238.9,471.7 239.4,471.1 239.4,470.6 239.9,471.5 240.4,472.1 240.9,471.8 241.4,471.3 241.6,469.4 241.9,469.5 242.4,470.1 242.9,470.3 243.4,471.1 243.9,468.7 244.4,470.7 244.4,469.5 244.9,470.7 245.4,468.5 245.6,469.1 245.9,468.2 246.4,444.3 246.4,443.1 246.6,408.1 246.9,442.1 246.9,443.1 247.4,468.1 247.7,471.1 247.9,468.4 248.4,470.8 248.7,468.0 248.9,470.5 249.4,468.7 249.9,469.5 250.4,471.8 250.9,470.1 250.9,470.3 251.4,470.6 251.9,468.4 252.4,473.2 252.6,474.1 252.9,475.2 253.4,477.3 253.9,476.2 254.1,478.2 254.4,474.5 254.9,477.4 255.4,479.0 255.9,478.8 255.9,474.9 256.4,479.5 256.9,475.3 256.9,478.7 257.4,476.9 257.9,474.8 258.1,478.9 258.4,479.1 258.9,478.4 259.4,479.8 259.9,475.9 260.4,475.3 260.9,474.7 260.9,472.6 261.4,471.9 261.9,467.2 262.4,465.7 262.9,465.0 263.4,463.9 263.9,455.8 264.2,454.6 264.4,443.6 264.5,433.8 264.9,439.4 265.0,442.3 265.4,442.5 265.9,442.7 266.4,442.9 266.8,443.1 266.9,441.0 267.4,429.0 267.4,428.1 267.8,440.2 267.9,440.1 268.4,439.8 268.9,439.4 269.4,439.1 269.9,438.7 270.4,438.3 270.5,438.3 270.9,421.7 271.0,415.9 271.4,443.0 271.4,443.3 271.9,474.6 272.2,474.6 272.4,472.8 272.9,472.0 273.4,472.5 273.9,475.4 274.4,471.2 274.6,475.3 274.9,475.2 275.3,471.8 275.4,472.4 275.9,473.2 276.4,474.7 276.9,475.2 277.2,475.8 277.4,452.7 277.9,434.8 278.0,428.7 278.4,418.8 278.5,415.8 278.9,433.1 278.9,435.9 279.4,438.8 279.9,442.0 280.4,445.3 280.9,448.6 281.4,451.9 281.8,454.6 281.9,454.8 282.4,460.5 282.9,460.9 283.4,461.0 283.9,461.9 283.9,461.3 284.4,460.8 284.9,461.1 285.4,461.7 285.9,461.7 286.4,460.6 286.8,461.2 286.9,460.9 287.4,464.0 287.9,465.2 288.4,464.2 288.9,465.2 289.4,466.2 289.9,466.2 290.2,463.9 290.4,454.9 290.7,448.9 290.9,465.5 291.2,464.8 291.4,464.6 291.5,464.7 291.9,464.2 292.4,466.2 292.5,466.0 292.9,464.7 293.4,465.8 293.9,465.1 293.9,465.4 294.4,464.8 294.7,450.2 294.9,448.5 295.4,443.5 295.9,438.5 296.4,433.5 296.9,428.7 296.9,428.7 297.4,427.4 297.9,426.2 298.4,424.9 298.9,423.6 299.1,423.1 299.4,387.9 299.6,357.9 299.9,404.6 300.1,440.0 300.4,441.3 300.9,443.5 301.4,445.7 301.9,447.9 302.4,450.1 302.9,452.2 303.4,454.4 303.5,455.0 303.9,462.8 304.4,462.3 304.9,462.5 305.4,462.1 305.9,462.8 306.0,462.8 306.4,462.6 306.9,463.2 307.4,461.8 307.7,462.8 307.9,463.4 308.4,450.8 308.5,448.0 308.9,447.9 309.4,447.7 309.9,447.6 310.4,447.4 310.9,447.2 311.0,447.2 311.4,440.4 311.5,438.0 311.9,446.9 312.0,450.0 312.4,450.7 312.9,451.7 313.4,452.7 313.9,453.7 314.4,454.7 314.9,455.7 315.4,465.9 315.5,464.9 315.9,466.0 316.4,465.5 316.9,464.3 317.4,463.8 317.9,464.8 318.4,464.3 318.5,463.5 318.9,466.0 319.4,465.8 319.9,465.3 320.4,465.6 320.5,465.7 320.9,466.1 321.4,465.4 321.9,465.5 322.3,464.9 322.4,464.9 322.9,446.4 323.1,440.1 323.4,383.8 323.5,354.0 323.9,354.6 324.4,355.4 324.9,356.2 325.4,357.0 325.9,357.8 326.0,358.0 326.4,362.3 326.9,368.1 326.9,368.4 327.4,400.6 327.8,430.0 327.9,430.6 328.4,434.8 328.9,439.0 329.4,443.2 329.9,447.4 330.4,451.6 330.7,454.6 330.9,438.7 330.9,430.0 331.2,402.2 331.4,417.7 331.4,425.0 331.8,443.0 331.9,445.0 332.4,463.7 332.6,464.0 332.9,463.2 333.4,464.0 333.9,463.4 334.4,462.8 334.4,463.4 334.9,463.0 335.4,462.8 335.9,462.7 336.4,463.8 336.9,462.9 337.2,464.4 337.4,463.3 337.9,462.8 338.4,463.9 338.9,462.6 339.3,461.7 339.4,460.8 339.6,455.1 339.9,440.8 340.1,428.7 340.4,437.3 340.6,444.6 340.9,444.9 341.4,445.4 341.9,445.9 342.0,445.8 342.4,419.1 342.5,410.0 342.8,443.0 342.9,445.3 343.4,466.2 343.6,467.6 343.9,466.3 344.4,466.0 344.9,466.2 345.4,466.2 345.8,466.7 345.9,465.7 346.4,466.1 346.9,466.1 347.4,466.9 347.9,465.3 348.4,465.3 348.9,466.3 349.1,465.9 349.4,465.9 349.9,443.2 349.9,442.2 350.2,380.0 350.4,342.8 350.5,302.4 350.9,309.9 350.9,310.9 351.1,358.8 351.4,364.5 351.9,373.6 352.4,382.8 352.9,391.9 353.4,401.1 353.9,410.2 354.4,419.3 354.9,428.5 355.4,437.6 355.5,440.0 355.9,474.6 356.3,476.0 356.4,472.2 356.9,475.1 357.1,475.5 357.2,398.0 357.4,424.0 357.5,440.0 357.9,439.2 358.4,438.2 358.9,437.2 359.4,436.3 359.5,436.0 359.9,451.1 360.0,472.0 360.4,477.4 360.9,455.8 361.4,454.9 361.9,453.9 362.4,453.0 362.9,452.0 363.4,451.1 363.8,450.3 363.9,452.6 364.1,459.7 364.4,460.8 364.9,460.5 365.4,459.9 365.9,460.6 366.4,459.8 366.9,455.8 367.4,454.7 367.4,454.6 367.9,453.8 368.4,453.0 368.9,452.2 369.4,451.4 369.9,450.5 370.4,449.7 370.9,448.9 370.9,448.8 371.4,429.3 371.4,428.0 371.6,443.0 371.9,449.3 372.4,464.2 372.4,464.3 372.9,463.8 373.4,463.5 373.9,464.0 374.4,463.0 374.6,463.3 374.9,463.3 375.4,462.8 375.9,463.9 376.4,463.4 376.9,464.3 377.4,464.2 377.4,463.0 377.9,463.1 378.4,463.9 378.9,463.0 379.4,461.2 379.5,460.8 379.8,455.7 379.9,452.9 380.3,435.9 380.4,436.0 380.9,436.8 381.4,437.6 381.9,438.4 382.4,439.1 382.9,439.9 383.1,440.2 383.4,435.1 383.5,433.0 383.7,471.3 383.9,472.8 383.9,471.2 384.4,469.9 384.9,471.0 385.4,469.7 385.9,470.8 386.1,471.9 386.4,469.9 386.9,473.4 387.4,471.7 387.9,471.2 388.4,471.7 388.9,468.7 388.9,468.2 389.4,469.5 389.9,466.8 390.3,466.7 390.4,465.7 390.9,450.9 391.1,446.0 391.4,443.2 391.9,438.2 392.4,433.1 392.9,428.0 393.4,422.9 393.9,417.8 393.9,417.3 394.4,396.2 394.4,394.8 394.6,428.7 394.9,430.4 395.4,434.2 395.9,437.9 396.4,441.7 396.9,445.5 397.4,449.3 397.5,450.3 397.9,451.2 398.4,452.4 398.9,453.7 399.4,454.9 399.9,462.8 400.4,462.3 400.4,463.8 400.9,463.5 401.4,462.3 401.9,463.4 402.4,462.1 402.9,463.0 403.3,463.3 403.4,463.5 403.9,462.4 404.4,462.3 404.9,464.8 405.4,468.5 405.9,470.3 406.4,468.6 406.8,454.6 406.9,452.6 407.3,433.0 407.4,439.8 407.6,471.2 407.9,468.9 408.4,468.1 408.9,468.5 409.4,470.5 409.7,471.1 409.9,469.3 410.4,469.9 410.7,468.4 410.9,469.5 411.0,469.2 411.4,469.6 411.5,453.8 411.9,470.8 412.0,470.8 412.3,470.8 412.4,471.1 412.9,470.1 413.3,471.2 413.4,470.2 413.9,471.5 414.4,469.9 414.9,470.5 415.4,469.2 415.9,471.4 416.2,473.0 416.4,471.9 416.9,471.4 417.4,472.3 417.9,471.7 418.4,470.4 418.9,470.7 419.4,470.6 419.9,470.1 420.4,469.9 420.5,469.5 420.9,469.9 421.4,470.3 421.9,470.8 422.4,469.5 422.9,470.5 423.4,470.4 423.4,470.4 423.9,469.7 424.4,469.5 424.9,470.5 425.0,470.4 425.4,470.0 425.9,469.2 426.4,468.1 426.9,469.7 427.1,469.4 427.4,469.5 427.9,468.5 428.4,467.6 428.9,468.9 429.3,466.4 429.4,468.1 429.9,466.8 430.4,467.2 430.9,468.7 431.4,466.9 431.8,467.4 431.9,450.0 432.2,402.9 432.4,439.0 432.5,464.1 432.9,465.6 433.4,466.7 433.9,465.0 434.4,465.6 434.9,468.5 435.1,466.7 435.4,470.3 435.9,469.8 436.4,468.8 436.9,469.5 437.4,469.8 437.9,471.4 437.9,472.8 438.4,471.5 438.9,471.6 439.4,471.5 439.4,472.8 439.9,474.0 440.4,476.6 440.9,476.8 441.4,478.1 441.9,478.2 442.2,479.1 442.4,480.7 442.9,482.6 443.4,481.0 443.9,481.7 444.4,482.3 444.9,483.7 445.1,481.4 445.4,481.9 445.9,482.0 446.4,481.1 446.5,482.5 446.9,483.7 447.4,480.9 447.9,481.9 448.4,480.2 448.7,482.0 448.9,483.0 449.4,481.6 449.9,479.8 450.4,480.2 450.9,480.7 450.9,481.4 451.4,478.8 451.9,477.1 452.4,477.5 452.9,476.8 453.4,480.6 453.9,478.9 453.9,478.6 454.1,443.1 454.4,478.0 454.4,477.7 454.9,477.9 455.4,479.4 455.9,477.4 456.4,479.0 456.9,478.1 457.3,479.3 457.4,477.9 457.9,480.0 458.4,480.4 458.9,479.1 459.4,479.2 459.5,479.9 459.9,480.1 460.4,478.3 460.9,479.9 461.4,480.1 461.9,478.3 462.3,475.7 462.4,475.6 462.9,472.8 463.4,471.9 463.9,474.7 464.4,477.5 464.9,477.4 465.2,478.2 465.4,477.7 465.9,475.8 466.4,475.9 466.6,477.8 466.9,476.2 467.4,475.4 467.9,478.5 468.1,476.1 468.4,476.7 468.9,477.5 469.4,476.8 469.9,476.3 470.2,478.5 470.4,479.1 470.9,477.0 471.4,476.0 471.9,477.3 472.4,477.4 472.4,477.0 472.9,476.6 473.4,478.4 473.9,475.8 474.4,475.7 474.5,479.8 474.9,479.8 475.4,477.3 475.9,477.3 476.4,478.8 476.7,478.6 476.9,476.4 477.4,475.4 477.5,473.3 477.9,449.0 478.3,428.9 478.4,412.9 478.4,405.3 478.7,442.4 478.9,449.0 479.4,477.5 479.5,479.1 479.9,478.5 480.4,477.5 480.7,478.0 480.9,476.2 481.4,477.1 481.9,477.4 482.4,473.5 482.4,477.8 482.9,477.0 483.4,475.6 483.9,474.1 484.1,472.4 484.4,473.6 484.9,446.9 484.9,443.1 485.3,415.8 485.4,422.7 485.7,476.4 485.9,476.4 486.4,476.1 486.9,473.3 487.4,473.3 487.9,472.5 488.4,469.3 488.9,472.8 489.0,471.7 489.3,453.2 489.4,455.2 489.7,472.0 489.9,474.9 490.4,475.5 490.9,471.6 491.4,475.1 491.9,474.1 492.4,472.6 492.9,475.0 493.4,476.3 493.9,476.0 493.9,477.4 494.4,476.9 494.9,474.9 495.4,476.3 495.9,474.3 496.4,476.6 496.8,475.7 496.9,475.9 497.4,474.4 497.9,474.5 498.4,475.3 498.9,476.3 499.4,480.0 499.7,477.9 499.9,479.4 500.4,479.2 500.9,481.6 501.4,484.9 501.8,481.7 501.9,483.9 502.4,481.2 502.9,485.0 503.3,483.2 503.4,481.1 503.9,484.3 504.4,484.9 504.9,482.3 505.4,483.1 505.4,483.8 505.9,485.1 506.4,487.7 506.9,487.6 507.4,485.6 507.6,485.1 507.9,486.6 508.4,486.5 508.9,485.6 509.4,486.7 509.7,487.1 509.9,484.6 510.4,483.9 510.9,485.3 511.4,481.4 511.9,480.7 512.4,480.4 512.6,484.1 512.9,480.2 513.4,480.3 513.9,483.3 514.0,483.5 514.4,483.7 514.9,482.4 515.4,484.3 515.8,480.8 515.9,482.1 516.4,481.6 516.9,480.9 517.4,477.0 517.6,476.8 517.9,480.1 518.4,477.8 518.9,478.3 519.4,480.0 519.8,478.0 519.9,478.0 520.4,478.9 520.9,477.3 521.4,477.1 521.9,479.3 522.4,478.3 522.6,477.1 522.9,477.8 523.4,479.6 523.9,480.2 524.1,479.2 524.4,478.5 524.9,480.9 525.4,478.8 525.9,480.6 526.2,478.4 526.4,481.2 526.9,480.8 527.4,479.6 527.9,479.5 528.4,480.6 528.4,481.2 528.9,481.1 529.4,481.9 529.9,479.9 530.4,480.5 530.5,481.5 530.9,479.8 531.4,481.8 531.9,480.2 532.4,478.8 532.7,481.5 532.9,479.6 533.4,479.9 533.9,480.1 534.4,480.8 534.9,479.0 535.4,482.6 535.5,480.8 535.9,480.2 536.4,479.9 536.9,483.0 537.2,482.9 537.4,480.8 537.9,480.4 538.4,483.0 538.9,478.9 539.3,479.0 539.4,481.0 539.9,482.0 540.4,481.0 540.9,482.1 541.4,481.7 541.5,482.3 541.9,482.3 542.4,481.9 542.9,481.9 543.4,482.6 543.9,481.1 544.4,481.3 544.4,480.7 544.9,479.4 545.4,479.2 545.9,479.1 546.4,478.1 546.9,477.1 547.2,478.3 547.4,478.2 547.9,478.5 548.4,477.8 548.9,477.5 549.4,476.6 549.9,476.7 550.1,476.2 550.4,479.6 550.9,479.7 551.4,479.9 551.9,480.5 552.3,481.2 552.4,483.9 552.9,481.9 553.4,481.1 553.7,482.8 553.9,482.5 554.4,484.1 554.9,483.4 555.4,483.4 555.9,485.5 556.4,485.1 556.6,483.0 556.9,483.5 557.4,485.2 557.9,484.3 558.4,486.3 558.7,486.2 558.9,485.2 559.4,486.9 559.9,485.9 560.4,484.6 560.9,485.5 561.4,484.8 561.9,485.2 562.4,484.4 562.9,484.5 563.4,483.2 563.7,483.3 563.9,482.3 564.4,483.3 564.9,482.8 565.4,483.1 565.9,484.5 565.9,483.5 566.4,483.7 566.9,484.7 567.4,484.8 567.9,484.4 568.4,484.1 568.8,482.9 568.9,481.6 569.4,482.0 569.9,480.6 570.4,482.5 570.9,481.1 571.4,480.1 571.6,480.2 571.9,475.0 572.4,476.9 572.9,479.9 573.1,479.2 573.4,477.9 573.9,477.8 574.4,474.9 574.5,475.3 574.9,473.9 575.3,442.9 575.4,430.9 575.5,413.0 575.7,443.1 575.9,480.2 575.9,478.3 576.4,474.6 576.9,479.1 577.4,479.5 577.9,479.3 578.1,479.4 578.4,479.3 578.9,479.5 579.4,477.1 579.5,481.2 579.9,477.8 580.4,478.2 580.9,481.4 581.4,478.2 581.7,478.7 581.9,479.7 582.4,480.9 582.9,478.3 583.4,476.3 583.9,478.6 584.2,477.4 584.4,477.8 584.6,454.8 584.9,476.6 584.9,476.7 585.4,475.3 585.9,474.7 586.4,474.9 586.9,475.9 587.4,479.5 587.4,476.1 587.9,480.3 588.4,480.9 588.9,483.0 589.4,481.1 589.6,482.0 589.9,483.5 590.4,482.8 590.9,481.1 591.4,480.3 591.8,481.7 591.9,482.0 592.4,480.3 592.9,478.4 593.4,476.0 593.9,474.7 593.9,474.9 594.4,474.6 594.9,479.2 595.3,479.3 595.4,477.2 595.9,438.9 596.1,428.4 596.3,347.0 596.4,358.5 596.9,440.7 596.9,442.3 597.4,475.9 597.7,474.5 597.9,476.6 598.4,477.0 598.9,478.8 599.4,475.6 599.6,477.3 599.9,479.6 600.4,478.6 600.9,479.0 601.1,475.7 601.4,476.8 601.9,483.8 602.4,483.0 602.5,482.5 602.9,478.3 603.4,478.9 603.9,479.9 604.4,483.3 604.7,479.7 604.9,479.8 605.4,479.5 605.9,480.4 606.4,479.2 606.8,480.1 606.9,475.4 607.4,473.2 607.9,475.8 608.4,470.6 608.9,473.5 609.4,473.3 609.7,472.0 609.9,472.1 610.0,454.7 610.3,470.8 610.4,475.2 610.9,471.2 611.4,471.8 611.9,473.8 612.4,471.1 612.9,475.5 613.3,472.4 613.4,471.0 613.9,472.1 614.4,478.6 614.9,480.3 615.4,478.8 615.9,480.0 616.2,480.7 616.4,481.0 616.9,482.1 617.4,480.8 617.9,481.4 618.3,483.1 618.4,483.1 618.9,481.1 619.4,483.6 619.9,480.4 620.4,482.8 620.9,483.4 621.2,482.3 621.4,482.4 621.9,480.6 622.4,483.1 622.9,482.5 623.3,482.1 623.4,482.7 623.9,482.0 624.4,485.6 624.9,484.3 625.4,484.3 625.5,482.5 625.9,484.7 626.4,482.9 626.9,485.1 627.4,482.2 627.9,483.5 628.4,484.5 628.4,485.1 628.9,486.3 629.4,483.6 629.9,484.3 630.4,481.8 630.5,483.0 630.9,482.0 631.4,480.9 631.9,481.6 632.4,480.4 632.9,478.9 633.4,480.1 633.4,476.9 633.9,480.1 634.4,476.0 634.9,478.2 635.0,474.7 635.4,479.0 635.9,476.2 636.4,476.5 636.4,476.8 636.9,479.3 637.4,477.5 637.9,477.3 638.4,479.2 638.9,476.3 639.4,478.5 639.9,479.1 640.0,477.4 640.4,482.9 640.9,480.9 641.4,482.6 641.9,483.2 642.2,483.8 642.4,481.1 642.9,480.9 643.4,483.9 643.9,478.2 644.3,479.3 644.4,478.5 644.9,480.6 645.4,478.3 645.8,480.7 645.9,478.8 646.4,475.7 646.4,478.7 646.9,455.1 647.2,443.1 647.4,426.6 647.5,411.1 647.8,479.9 647.9,478.6 648.4,477.0 648.9,474.0 649.4,470.5 649.9,470.1 650.4,469.6 650.8,470.3 650.9,469.1 651.4,469.8 651.9,470.5 652.4,473.6 652.9,472.1 653.0,473.0 653.4,474.8 653.9,474.2 654.4,473.7 654.4,473.1 654.9,472.9 655.4,471.3 655.9,470.7 656.4,470.1 656.5,470.7 656.9,473.1 657.4,473.2 657.9,470.5 658.4,474.6 658.9,472.7 659.0,473.0 659.4,399.5 659.4,394.2 659.8,470.5 659.9,471.1 660.4,471.3 660.9,471.5 661.4,471.7 661.9,473.5 662.3,469.3 662.4,472.2 662.9,471.5 663.4,472.8 663.9,472.9 664.4,474.3 664.4,474.1 664.9,474.1 665.4,472.7 665.9,475.2 666.4,476.2 666.9,475.9 667.3,476.6 667.4,474.9 667.9,472.6 668.4,476.1 668.9,473.9 669.4,475.3 669.5,472.9 669.9,474.4 670.4,475.2 670.9,473.3 671.4,474.4 671.9,473.2 672.3,476.6 672.4,476.3 672.9,475.7 673.4,474.0 673.9,475.4 674.4,471.1 674.9,472.8 675.0,469.1 675.4,471.6 675.9,442.9 675.9,441.4 676.0,429.5 676.3,373.2 676.4,383.6 676.7,428.3 676.9,451.2 676.9,470.5 677.4,471.7 677.9,468.2 678.4,471.6 678.9,468.8 679.4,463.3 679.9,465.6 680.4,463.9 680.9,464.9 681.0,466.4 681.4,465.4 681.9,467.0 682.4,467.5 682.9,468.1 683.4,467.2 683.8,468.4 683.9,468.8 684.4,467.9 684.9,469.2 685.4,469.2 685.9,468.1 686.4,469.1 686.7,468.9 686.9,467.5 687.4,468.6 687.9,469.1 688.4,468.7 688.9,467.8 689.4,468.1 689.6,468.4 689.9,468.1 690.4,467.6 690.9,466.5 691.4,465.3 691.9,464.4 692.4,463.3 692.4,463.8 692.9,464.5 693.4,462.7 693.9,464.4 694.4,466.0 694.9,466.5 695.3,464.3 695.4,467.6 695.9,466.9 696.4,471.7 696.9,455.8 697.0,455.3 697.4,471.3 697.5,472.0 697.9,470.5 698.4,470.8 698.9,470.8 698.9,471.9 699.4,471.2 699.9,471.9 700.4,471.6 700.9,474.0 701.0,475.2 701.4,474.9 701.9,478.2 702.4,479.3 702.9,479.5 703.4,479.6 703.9,479.1 703.9,479.8 704.4,478.2 704.9,478.9 705.4,479.9 705.9,479.1 706.1,478.6 706.4,475.0 706.9,474.6 707.4,475.5 707.9,477.3 708.2,474.9 708.4,474.9 708.9,479.4 709.4,475.9 709.9,475.1 710.4,475.2 710.4,473.7 710.9,472.7 711.4,468.7 711.8,467.9 711.9,466.9 712.4,468.6 712.9,469.4 713.4,468.1 713.9,471.0 714.0,472.2 714.4,472.6 714.9,472.0 715.4,471.8 715.4,473.6 715.9,471.9 716.4,475.5 716.9,474.2 716.9,473.3 717.4,475.1 717.9,472.6 718.4,474.1 718.9,473.8 719.0,472.1 719.4,476.0 719.9,476.0 720.4,475.7 720.9,477.7 721.2,477.9 721.4,479.0 721.9,478.5 722.4,479.0 722.9,478.6 723.4,478.1 723.9,476.4 724.0,476.5 724.4,475.6 724.9,476.2 725.4,478.4 725.9,480.5 726.4,481.0 726.9,482.5 726.9,482.4 727.4,481.8 727.9,477.4 728.0,478.6 728.4,480.1 728.9,481.6 729.4,479.0 729.9,482.0 730.2,482.1 730.4,477.7 730.9,480.3 731.4,477.9 731.6,476.1 731.9,475.7 732.4,476.6 732.9,475.1 733.4,478.7 733.8,477.2 733.9,476.6 734.4,478.6 734.9,475.8 735.4,473.4 735.7,473.0 735.9,474.2 736.4,473.6 736.7,476.1 736.9,472.5 737.4,471.6 737.9,471.2 738.4,472.3 738.8,471.8 738.9,476.2 739.4,474.9 739.9,475.7 740.4,477.0 740.9,474.8 741.4,473.1 741.7,469.6 741.9,469.9 742.4,468.6 742.9,467.2 743.4,464.8 743.9,464.7 744.4,464.0 744.9,463.5 745.4,463.8 745.8,464.3 745.9,450.4 746.0,437.1 746.2,421.7 746.4,414.1 746.4,410.2 746.7,442.5 746.9,450.5 747.0,466.6 747.4,469.4 747.9,469.1 748.4,476.0 748.9,475.0 749.4,476.2 749.9,474.9 750.3,474.8 750.4,476.2 750.9,476.0 751.4,474.4 751.9,473.8 752.4,476.5 752.5,473.3 752.9,473.5 753.4,472.8 753.9,473.5 754.4,474.6 754.6,472.5 754.9,474.3 755.4,475.1 755.6,473.9 755.9,475.8 756.4,474.4 756.8,471.0 756.9,473.4 757.4,469.7 757.9,469.0 758.4,467.7 758.9,470.8 758.9,468.2 759.4,468.7 759.9,470.2 760.4,472.6 760.9,472.7 761.4,472.6 761.8,473.1 761.9,473.2 762.4,472.8 762.9,473.4 763.4,472.5 763.9,472.7 764.0,471.8 764.4,453.6 764.7,441.6 764.9,440.8 765.4,438.7 765.9,436.6 766.4,434.4 766.9,432.3 767.4,430.2 767.7,428.7 767.9,426.9 768.3,422.3" fill="none" stroke="#0000a0" stroke-width="2.8" stroke-linejoin="round" stroke-linecap="round"/>
<polyline points="112.9,466.8 115.7,468.9 117.2,476.8 119.3,476.8 121.5,467.5 124.4,466.8 124.8,456.7 126.9,456.7 127.5,466.8 157.4,466.8 160.3,471.1 168.9,471.1 171.0,466.1 172.2,440.9 174.6,440.9 175.8,470.4 181.8,470.4 183.2,467.5 184.7,470.4 186.8,470.4 189.0,466.8 199.0,466.8 201.2,470.4 204.8,470.4 207.6,466.8 217.2,466.8 218.6,471.1 224.3,471.1 225.8,462.5 230.8,462.5 231.9,471.1 245.9,471.1 247.3,483.0 253.8,483.0 254.5,474.7 259.5,474.7 260.7,483.0 266.7,483.0 268.1,466.8 271.0,466.8 272.4,457.4 273.6,394.8 275.4,394.8 276.5,474.7 280.3,474.7 281.3,455.3 285.4,455.3 286.5,471.8 288.2,474.0 293.3,474.0 294.3,479.7 300.0,479.7 301.4,393.3 303.3,393.3 304.7,484.7 305.2,478.3 309.1,478.3 309.8,486.0 310.8,486.0 311.5,466.0 321.3,466.0 322.7,470.4 325.0,470.4 326.5,454.6 329.3,454.6 330.0,460.3 332.9,460.3 333.6,437.6 336.5,437.6 337.5,469.6 339.4,466.0 343.7,466.0 345.1,428.7 345.9,392.9 347.2,392.9 348.0,443.0 349.4,466.0 350.9,483.3 352.3,483.3 353.5,344.3 356.8,346.4 357.6,467.5 358.1,437.3 359.8,393.3 361.6,393.3 362.4,457.4 363.1,477.5 365.7,477.5 366.7,466.0 371.0,463.2 373.1,457.4 374.6,437.6 376.7,437.6 377.4,454.6 382.5,454.6 383.9,463.9 386.8,463.9 387.5,455.3 388.6,455.3 390.4,466.0 394.0,464.6 394.7,428.7 395.9,392.9 397.3,392.9 398.7,443.1 399.3,454.6 402.6,454.6 404.0,465.3 406.9,465.3 408.3,461.7 414.8,461.7 416.5,470.4 425.5,470.4 427.0,466.0 428.6,470.4 432.2,470.4 432.9,454.6 436.5,454.6 437.6,468.9 439.4,471.1 443.7,471.1 445.1,477.5 452.3,477.5 453.7,479.0 460.9,479.0 463.8,473.2 466.6,471.1 475.3,471.1 476.7,476.1 479.6,476.1 481.0,454.6 485.0,454.6 486.0,476.1 490.3,476.1 491.3,466.8 495.7,466.8 496.8,476.1 505.4,476.1 516.9,476.8 519.8,479.0 555.8,479.0 559.4,483.3 571.6,483.3 572.4,463.2 575.2,463.2 576.0,469.6 586.7,469.6 587.4,466.8 589.6,466.8 591.7,470.4 593.9,477.5 595.3,483.3 596.8,483.3 597.8,454.6 599.6,454.6 600.6,438.5 605.4,438.5 606.1,454.6 608.3,454.6 609.0,468.9 613.3,471.1 616.2,473.2 621.2,473.2 621.9,469.6 629.1,469.6 630.5,471.1 644.3,471.1 647.9,468.9 650.8,464.6 652.2,457.4 652.9,439.5 655.1,439.5 656.3,454.6 660.1,455.3 661.6,471.8 663.0,474.7 665.2,474.7 667.3,470.4 669.5,463.2 673.1,463.2 673.8,471.8 675.2,471.8 676.6,457.4 677.4,438.8 679.5,438.8 680.4,395.2 681.6,395.2 682.4,438.8 683.5,457.4 684.5,464.6 686.0,460.3 688.8,457.4 696.7,457.4 701.1,463.2 704.6,463.9 705.4,471.1 709.0,471.8 710.4,483.3 715.4,483.3 716.8,474.7 719.7,473.2 720.7,457.4 722.3,457.4 723.3,471.8 726.9,476.1 732.6,476.1 737.0,471.8 741.0,466.8 745.3,466.8 746.0,483.3 747.2,483.3 748.2,457.4 749.2,410.8 751.0,410.8 751.7,440.2 752.8,440.2 753.9,466.0 764.7,466.8 768.0,466.0" fill="none" stroke="#ee0a12" stroke-width="2.3" stroke-linejoin="round" stroke-linecap="round"/>
</g>
</g>
<g id="xaxis">
<line class="k" x1="113.5" y1="486" x2="113.5" y2="492"/>
<text class="ax" x="113" y="506" text-anchor="middle">Jan</text>
<line class="k" x1="219.5" y1="486" x2="219.5" y2="492"/>
<text class="ax" x="219" y="506" text-anchor="middle">Mar</text>
<line class="k" x1="328.5" y1="486" x2="328.5" y2="492"/>
<text class="ax" x="328" y="506" text-anchor="middle">May</text>
<line class="k" x1="437.5" y1="486" x2="437.5" y2="492"/>
<text class="ax" x="437" y="506" text-anchor="middle">Jul</text>
<line class="k" x1="549.5" y1="486" x2="549.5" y2="492"/>
<text class="ax" x="549" y="506" text-anchor="middle">Sep</text>
<line class="k" x1="658.5" y1="486" x2="658.5" y2="492"/>
<text class="ax" x="658" y="506" text-anchor="middle">Nov</text>
<line class="k" x1="113.5" y1="511" x2="113.5" y2="528"/>
<text class="ax" x="440" y="524" text-anchor="middle">2002</text>
</g>
<g id="legend">
<rect x="47" y="539.3" width="34" height="4.5" fill="#0000a0"/>
<text class="lg" x="87" y="548" textLength="102.3">CBR OBS PRECIP-INC</text>
<rect x="257" y="542" width="33" height="2" fill="#000"/>
<text class="lg" x="297" y="548" textLength="73.8">CBR OBS ELEV</text>
<rect x="420" y="542" width="33" height="2" fill="#cc1216"/>
<text class="lg" x="459.3" y="548" textLength="120.6">CBR GUIDE CURVE ELEV</text>
<rect x="629" y="542" width="33.6" height="2" fill="#0000a0"/>
<path d="M635,547 l3,-3 M643,547 l3,-3 M651,547 l3,-3 M659,547 l3,-3" stroke="#0000a0" stroke-width="1" fill="none"/>
<text class="lg" x="668.8" y="548" textLength="79.2">CBR OBS FLOW</text>
<rect x="47" y="561" width="33" height="2" fill="#c01418"/>
<path d="M52,563 l3,3 M60,563 l3,3 M68,563 l3,3 M76,563 l3,3" stroke="#c01418" stroke-width="1" fill="none"/>
<text class="lg" x="87" y="567" textLength="126.2">CBR OBS FLOW-RES OUT</text>
</g>
</svg>
</body></html>
